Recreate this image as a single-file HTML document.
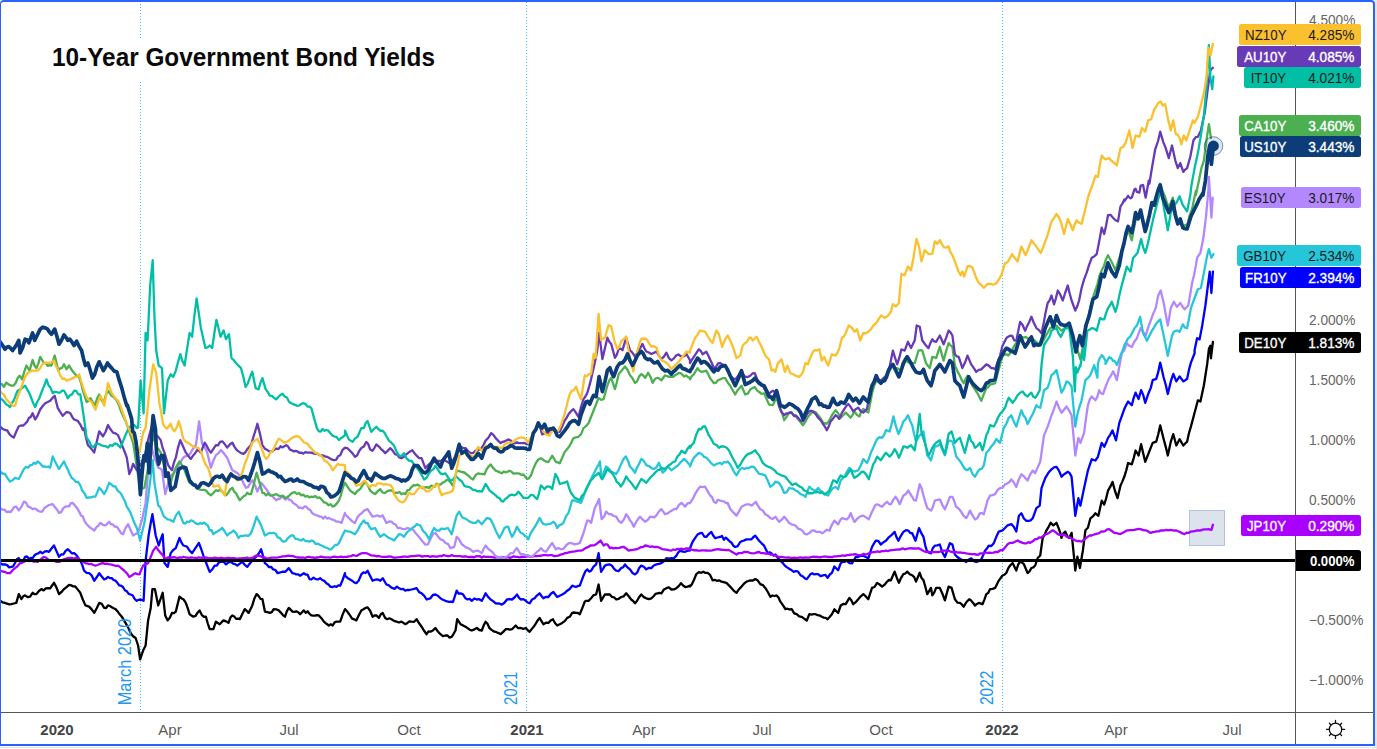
<!DOCTYPE html>
<html><head><meta charset="utf-8"><title>10-Year Government Bond Yields</title>
<style>
html,body{margin:0;padding:0;background:#fff;}
body{width:1377px;height:749px;position:relative;overflow:hidden;font-family:"Liberation Sans",sans-serif;}
#frame{position:absolute;left:0;top:0;width:1372px;height:742px;border-style:solid;border-color:#2962ff;border-width:2px 2px 2px 1px;border-radius:4px 4px 0 0;box-sizing:content-box;}
#gr{position:absolute;left:1375px;top:0;width:2px;height:749px;background:#e4e6ee;}
#gb{position:absolute;left:0;top:747px;width:1377px;height:1px;background:#e4e6ee;}
svg{position:absolute;left:0;top:0;}
#title{position:absolute;left:44px;top:38px;width:400px;height:43px;background:#fff;}
#title span{position:absolute;left:8px;top:4px;font-weight:bold;font-size:25px;line-height:30px;color:#0a0a0a;white-space:nowrap;transform-origin:0 50%;display:inline-block;transform:scaleX(0.974);}
.lb{position:absolute;height:21px;border-radius:2.5px;font-size:14.3px;line-height:21px;white-space:nowrap;}
.lb .n{position:absolute;right:75px;top:0.7px;transform:scaleX(0.93);transform-origin:100% 50%;}
.lb .v{position:absolute;right:7px;top:0.7px;transform:scaleX(0.955);transform-origin:100% 50%;}
.lb.w{-webkit-text-stroke:0.35px #fff;}
.yt{position:absolute;left:1308.5px;width:100px;text-align:left;font-size:14.3px;line-height:20px;color:#666;white-space:nowrap;transform:scaleX(0.955);transform-origin:0 50%;}
.xt{position:absolute;top:720px;width:60px;text-align:center;font-size:15px;line-height:20px;color:#5a5a5a;white-space:nowrap;}
.xt.b{font-weight:bold;color:#444;}
#zero{position:absolute;left:1296px;top:550px;width:65px;height:21px;background:#000;color:#fff;border-radius:0 2.5px 2.5px 0;font-size:14.3px;line-height:21px;font-weight:bold;}
#zero span{position:absolute;right:7px;top:0.7px;transform:scaleX(0.92);transform-origin:100% 50%;}
.rot{position:absolute;color:#2196f3;font-size:15px;line-height:16px;white-space:nowrap;transform-origin:0 0;transform:rotate(-90deg);}
</style></head><body>
<svg width="1377" height="749" viewBox="0 0 1377 749">
<g stroke="#40c4ff" stroke-width="1" stroke-dasharray="1 2" fill="none">
<line x1="140.5" y1="1" x2="140.5" y2="712"/><line x1="526.5" y1="2" x2="526.5" y2="712"/><line x1="1002.5" y1="2" x2="1002.5" y2="712"/>
</g>
<rect x="1189.5" y="510.5" width="35" height="35" fill="#dde3ed" stroke="#b7c3da" stroke-width="1"/>
<polyline points="0,600.3 2.5,602.3 5,602.9 7.1,603.7 9.2,604.3 11.3,604.1 13.8,603.5 16.3,602.9 18.8,594.1 21.3,599.1 23.2,596.3 25.1,595.3 27.6,597.2 30.1,596.6 32.6,592.8 34.5,594.2 36.4,594.1 38.9,591 41.4,589.1 43.6,590.4 45.8,588.3 48,588.1 50.2,588.3 52.1,585.5 54,582.8 56.5,587.6 59,594.1 61.5,592 64,589.1 66.5,587.1 69.1,584.8 71.2,585.4 73.2,586.4 75.3,586.5 77.8,589.6 80.3,592.8 82.8,599.5 85.4,605.4 89.1,606.6 91.7,609.4 94.2,612.9 96.7,608.3 99.2,602.9 101.7,603.9 104.2,607.9 106.1,608 108,605.4 109.9,606 111.8,607.2 113.6,608.3 115.5,609.1 117.6,611.4 119.7,614.3 121.8,616.7 125.5,622.9 128.1,627.4 130.6,633 133.1,636.2 135.6,638 138.1,645.5 140.1,659.4 143.1,650.6 145.6,645.5 148.1,620.4 150.7,607.9 152.4,589.1 154.9,589.1 158.2,605.4 160.4,599.4 162.7,592.8 165.2,615.4 167.7,620.4 169.8,617.7 172,612.9 173.9,613.2 175.8,611.6 179.5,596.6 181.6,598.4 183.7,599.6 185.8,602.9 187.7,608.2 189.6,614.2 193.3,616.7 195.4,616 197.5,612.8 199.6,610.4 202.1,615.4 204,616.8 205.9,616.7 207.8,623.5 209.7,629.2 213.4,629.2 215.9,621.7 217.8,623 219.7,624.2 221.6,622.2 223.5,620.4 226,621.3 228.5,622.9 230.4,617.6 232.3,615.4 234.2,616.4 236.1,618.9 237.9,618.7 239.8,619.2 242.3,614 244.8,609.1 246.7,610.9 248.6,612.9 252.3,605.4 254.5,598.2 256.6,594.1 258.5,595.9 260.5,598.8 262.4,599.1 264.9,611.6 267.4,612.1 269.9,612.9 271.8,612.2 273.7,609.1 276.2,609.3 278.7,610.4 280.8,612.6 282.9,615.1 285,616.7 286.9,611.1 288.8,607.9 292.5,611.6 294.4,611.9 296.3,611.3 298.2,612.2 300.1,614.2 303.8,610.4 305.7,612.8 307.6,611.3 309.5,613.9 311.4,615.4 313.3,615.6 315.1,615.7 317,615.2 318.9,615.4 321.4,618.2 323.9,621.7 326.4,623.8 328.9,625.5 330.8,624.3 332.7,625.5 334.6,622.3 336.5,621.7 340.2,621.7 342.6,614.6 345,609.1 345,609.1 347.5,611.8 350,615.4 352.1,618.6 354.2,619.3 356.3,620.4 358.8,615.3 361.3,610.4 363.4,609.2 365.5,607.9 367.6,607.4 370.1,610.7 372.6,616.7 374.5,615.5 376.4,615.4 378.9,617.9 380.8,614.3 382.7,612.9 385.2,617.9 387.3,619.2 389.4,618.3 391.5,619.2 394,620.9 396.5,621.7 399,622.5 401.5,621.7 403.4,622.9 405.3,624.2 407.4,622.9 409.4,621.3 411.5,621.7 414.1,621.8 416.6,619.2 419.1,623.3 421.6,626.7 424.1,630.8 426.6,634.2 428.5,631.4 430.4,631.7 432.9,630.4 435.4,628 437.9,631.5 440.4,634.2 442.9,636.1 445.4,635.5 447.5,635.5 449.6,637.6 451.7,636.8 453.6,633.8 455.5,630.5 457.2,619.2 460.5,624.2 463,625.4 465.5,626.7 467.6,628.1 469.7,629.7 471.8,630.5 474.3,629.4 476.8,628 479.3,630 481.8,630.5 483.7,625.4 485.6,621.7 487.5,623.7 489.4,628 491.9,630.1 494.4,631.7 496.5,632.2 498.6,633.1 500.7,634.2 503.2,631.9 505.7,629.2 507.8,629.2 509.9,629.7 512,629.2 515.7,625.5 518.2,628.2 520.8,628 523.3,628.8 525.8,628 527.7,630.3 529.6,631.7 532.1,628.6 534.6,625.5 537.1,621.3 539.6,617.9 541.5,621.2 543.4,624.2 545.9,622.7 548.4,622.9 550.6,620.4 552.9,619.2 555,623 557.2,625.5 559.7,624.3 562.2,622.9 564.7,621.1 567.2,617.9 569.7,616.8 572.2,612.9 574.1,612.5 576,612.9 577.9,613 579.8,614.2 582.3,608.1 584.8,601.6 586,600.8 588.5,600.9 591.1,598.3 593.6,595.1 596.1,594.5 598.6,584.5 601.1,600.8 603,597.6 604.9,594.5 607.4,594.3 609.9,594.5 612,596.9 614.1,597.3 616.2,599.5 618.7,598.8 621.2,597 623.7,596.3 626.2,593.3 628.7,596.3 631.2,599.5 633.1,601 635,603.3 637.1,600.8 639.2,597 641.3,594.5 643.8,597.1 646.3,598.3 648.8,599.1 651.3,598.3 653.4,596.5 655.5,593.9 657.6,593.3 659.5,592.8 661.4,593.3 663.9,589.5 666.4,588.2 668.9,587.4 671.4,589.5 673.9,589.4 676.4,588.2 678.7,586.1 681,583.2 683.1,585.5 685.2,587 687.6,586.6 690,585.7 690,586.6 691.9,584.2 693.8,580.3 696.3,574.1 698.8,572.2 701.3,572.8 703.4,571.7 705.5,572.9 707.6,572.8 710.1,574.9 712.6,580.3 714.7,579.8 716.8,580.8 718.9,580.3 720.8,581.3 722.6,581.8 724.5,582.3 726.4,582.9 728.9,585.4 731.4,587.9 734,590.9 736.5,592.9 739,589.2 741.5,586.6 744,583.7 746.5,581.6 748.4,581 750.3,580.3 752.8,580.6 755.3,579.1 757.8,580.6 760.3,584.1 762.8,585.1 765.3,587.9 767.8,592 770.3,596.7 772.4,595.5 774.5,596 776.6,595.4 778.5,597.5 780.4,601.7 782.9,605.2 785.4,609.2 787.5,608.7 789.6,609.5 791.7,609.2 794.2,613.3 796.7,614.2 799.2,616.4 801.7,616.8 804.2,618.7 806.8,620.5 809.3,614.2 811.4,614.7 813.4,614.2 815.5,614.2 817.6,615.1 819.7,615.5 821.8,616.8 823.7,617.6 825.7,617.8 827.6,619.3 829.8,616.8 831.9,614.2 834.4,609.2 838.1,613 840.7,605.5 843.2,604 845.7,604.2 849.4,597.9 851.3,600.3 853.2,604.2 855.7,602.2 858.2,599.2 860.8,596.3 863.3,594.2 865.8,596.4 868.3,599.2 872,587.9 874.5,587 877.1,582.9 879.6,584.5 882.1,586.6 884.6,584.7 887.1,581.6 889,580 890.9,580.3 894.6,571.6 896.8,577.7 898.9,582.9 901.1,577.8 903.4,574.1 905.3,573.5 907.2,571.6 909.7,574.2 912.2,575.3 914.1,576.9 916,581.6 919.7,572.8 921.6,578.1 923.5,580.3 925.4,587 927.3,594.2 931,587.9 932.3,595.4 934.2,592.6 936.1,587.9 939.8,587.9 942.3,593.4 944.9,600.4 948.6,586.6 951.6,587.9 954.9,599.2 957.4,602.6 959.9,602.9 961.8,604.4 963.7,606.7 966.5,602 969.2,599.2 971.1,600.5 973.1,602.9 975,605.5 976.9,603.9 978.8,602.9 982.5,604.2 984.4,599.6 986.3,594.2 988.2,592.9 990.1,589.1 992.6,588.8 995.1,587.9 998.8,580.6 1002.5,575.5 1004.4,574.7 1006.3,573 1008.2,568.4 1010.1,565.5 1012.6,563 1016.3,570.5 1018.2,564.5 1020.1,561.7 1022,562.6 1023.9,564.2 1027.6,573 1029.5,571.4 1031.4,568 1033.3,567.3 1035.2,565.5 1037.7,558 1040.2,555.5 1042.7,537.9 1044.6,534.9 1046.5,530.3 1048.6,526.8 1050.7,522.8 1053.3,525.3 1056.5,522.8 1058.4,527.7 1060.3,532.9 1061.5,537.9 1063.4,533.4 1065.3,531.6 1067.2,536 1069.1,537.9 1071.6,532.9 1074.1,558 1075.3,570.5 1077.4,556.7 1079.9,568 1082.9,550.4 1085.4,530.3 1087.9,527.8 1090.4,518.3 1092.9,516.4 1095.4,513.3 1098.4,515.8 1101.7,500.7 1104.2,504.5 1106.1,498.6 1108,490.7 1110.2,486.9 1112.5,481.9 1115,491 1117.5,498.2 1120.5,485.6 1122.4,481.4 1124.3,476.8 1126.2,470.6 1128.1,463 1131.8,464.3 1133.7,458.1 1135.6,450.5 1138.6,455.5 1141.1,444.2 1143.2,453.2 1145.2,461.8 1148.7,453 1150.7,447.8 1152.7,442.9 1156.2,441.7 1158.2,434.5 1160.2,425.4 1163.7,439.2 1165.8,447.1 1167.8,455.5 1170.8,441.7 1173.3,434.2 1176.3,445.5 1179.6,439.2 1183.3,445.5 1185.2,443.5 1187.1,441.7 1189,433.1 1190.9,426.6 1194.6,412.8 1197.9,400.3 1200.4,401.5 1203.9,385.2 1207.2,363.9 1208.4,353.3 1208.9,348.8 1210.4,345.7 1210.9,358.3 1212.9,342" fill="none" stroke="#000000" stroke-width="2.3" stroke-linejoin="round" stroke-linecap="round"/>
<polyline points="0,563.1 2.5,564.5 5,564.4 7.1,565.1 9.2,567.4 11.3,566.9 13.2,566.3 15.1,562.8 16.9,559.2 18.8,558.1 21.3,563.1 23.2,560.9 25.1,556.8 27,556.5 28.9,558.8 30.7,558 32.6,558.1 34.5,555.3 36.4,554 38.3,553.4 40.2,551.8 42.4,553.4 44.6,551.7 46.8,551.1 49,551.8 51.5,548.5 54,545.5 56.5,551.1 59,556.8 61.2,554.5 63.4,554.3 65.6,550.9 67.8,549.3 69.9,551.2 72,553.4 74.1,553.1 76.2,554.9 78.2,557.7 80.3,560.6 82.2,564.9 84.1,570.7 86.6,572.8 89.1,573.2 91.7,575.4 94.2,580.7 96.7,577.3 99.2,573.2 101.7,576.5 104.2,579.4 106.1,578.6 108,576.9 109.9,578.1 111.8,578.1 113.6,580 115.5,580.7 117.4,582.8 119.2,585.3 121.1,585.7 123,587 124.9,590.3 126.8,591.3 128.7,593.9 130.6,594.5 132.7,595.5 134.7,599 136.8,600.8 138.7,599.8 140.6,599.5 143.6,600.8 145.6,560.6 148.6,535.5 150.5,524.2 152.4,514.2 155.7,535.5 158.7,545.5 160.7,539.4 162.7,534.2 164.5,563.1 167.7,566.9 170.7,553.1 173.2,550 175.8,548.1 179.5,538 181.4,542.3 183.3,545.5 185.2,546 187.1,546.8 189.6,550.7 192.1,553.1 194.4,549.6 196.6,546.4 198.9,543 201.2,549 203.4,555.6 205.3,560.5 207.2,565.6 209.7,571.9 212.2,569.5 214.7,565.6 216.8,565.7 218.9,562.4 221,561.9 223.5,561.5 226,564.4 228.5,562.3 231,561.9 233.1,563.7 235.2,564.1 237.3,565.6 239.8,563.6 242.3,561.9 244.8,564.8 247.3,566.9 249.8,563.5 252.3,560.6 254.2,558.5 256.1,556.8 258.6,553.8 261.1,549.3 263,555.9 264.9,563.1 267,564.7 269.1,567.2 271.2,566.9 273.3,569.4 275.4,570 277.5,573.2 279.4,572.6 281.2,572.2 283.1,571.7 285,571.9 286.9,570.1 288.8,568.1 292.5,573.2 294.4,573.6 296.3,574.3 298.2,574.4 300.1,575.7 303.8,573.2 305.7,574.5 307.6,574.7 309.5,579.1 311.4,579.4 313.6,577.7 315.8,579.1 317.9,579.4 320.1,578.2 322.2,580 324.3,580.9 326.4,583.2 328.5,584.5 330.6,586.9 332.7,587 334.6,586.2 336.4,586.9 338.3,585.5 340.2,585.7 342.6,580 345,573.2 345,575.7 347.5,577.9 350,579.4 352.1,580.7 354.2,582.4 356.3,583.2 358.8,580.4 361.3,574.4 363.4,572.4 365.5,573 367.6,570.7 370.1,575.9 372.6,580.7 374.5,580 376.4,579.4 378.3,579.6 380.2,580.7 382.7,578.2 386.4,584.5 388.5,585.1 390.6,586.9 392.7,588.2 394.8,588.8 396.9,586.6 399,588.2 401.1,589.1 403.2,589 405.3,590.7 407.4,589.8 409.4,590 411.5,589.5 414.1,588.9 416.6,588.2 419.1,592.1 421.6,593.3 424.1,595.6 426.6,599.5 428.5,598.8 430.4,598.3 432.9,595 435.4,594.5 437.9,595.8 440.4,598.3 442.9,599.7 445.4,600.8 447.3,601.4 449.2,601.9 451.1,601.7 453,602 456.7,590.7 458.6,593.6 460.5,593.3 463,594.4 465.5,598.3 467.6,599.4 469.7,598.9 471.8,600.8 474.3,598.5 476.8,599.5 479.3,599.2 481.8,600.8 483.7,597.3 485.6,593.3 488.1,596.9 490.6,599.5 493.1,601.1 495.7,603.3 497.8,603.5 499.8,603.7 501.9,604.6 504.4,602.8 507,599.5 509.5,599.2 512,599.5 514.5,597.5 517,594.5 518.9,597.7 520.8,599.5 523.3,599.1 525.8,600.8 527.7,602.5 529.6,603.3 532.1,599.5 534.6,598.3 537.1,595.3 539.6,593.3 541.5,596 543.4,598.3 545.9,596.8 548.4,597 550.9,593.7 553.4,592 555.3,594.5 557.2,597 559.7,595.8 562.2,594.5 564.7,593.1 567.2,590.7 569.7,589 572.2,585.7 574.1,586.4 576,587 577.9,586 579.8,585.7 583.5,575.7 585.4,571.3 587.3,569.4 589.2,571.6 591.1,570.7 593.6,566.7 596.1,564.4 598.6,553.1 601.1,571.9 603,568.9 604.9,565.6 607.4,564.6 609.9,564.4 612,565.7 614.1,568.8 616.2,570.7 618.7,571 621.2,568.1 623.1,567.3 625,564.4 627.5,567.4 630,569.4 632.5,573 635,574.4 637.1,572.7 639.2,568.1 641.3,565.6 643.8,566.8 646.3,569.4 648.8,567.8 651.3,568.1 653.8,565.5 656.4,564.4 658.9,563.9 661.4,563.1 663.9,561.4 666.4,558.1 668.9,558.7 671.4,558.1 673.9,558.3 676.4,555.6 678.3,552.3 680.2,550.6 682.7,551.6 685.2,551.8 687.6,550.7 690,550.6 690,548.2 692.5,542 695,538.2 697.5,534.6 700,533.2 702.1,533 704.2,536.5 706.3,536.9 708.8,534.1 711.3,531.9 713.2,535.5 715.1,538.2 717.6,537.5 720.1,536.9 722,535.9 723.9,539.7 725.8,537.6 727.7,539.4 729.6,541.3 731.5,542.7 733.3,545.7 735.2,547 737.7,546.1 740.2,542 742.3,541 744.4,540.4 746.5,539.4 749,539.3 751.5,539.4 753.4,537 755.3,535.7 757.2,538.3 759.1,540.7 761.6,543.3 764.1,545.7 767.8,553.3 769.7,552.3 771.6,553.4 773.5,555.6 775.4,554.5 777.9,558 780.4,560.8 782.5,562.6 784.6,565.4 786.7,567.1 789.2,568.7 791.7,570.3 793.8,571.9 795.9,571 798,571.6 800.5,575.2 803,576.6 804.9,578.4 806.8,579.1 810.5,574.1 812.4,573.3 814.3,574.4 816.2,574.1 818.1,574.1 820.6,576.2 823.1,575.3 825.4,574.9 827.6,577.8 829.8,574.5 831.9,572.8 834.4,566.5 838.1,570.3 840.7,563.3 842.8,561.7 844.8,561.8 846.9,560.8 849.5,563.1 852,563.3 855.7,557 857.6,557.2 859.5,556 861.4,555.9 863.3,555.8 865.8,557 868.3,558.3 872,547 873.9,543.6 875.8,540.7 878.3,541 880.8,544.5 883.3,542.4 885.9,540.7 888.4,537.7 890.9,535.7 894.6,531.9 896.5,537.1 898.4,540.7 900.9,535.8 903.4,531.9 905.9,530.2 908.4,530.7 910.3,533 912.2,533.2 915.5,540.7 919,528.1 921.2,532.9 923.5,536.9 925.4,546.1 927.3,552 931,553.3 932.9,547.9 934.8,545.7 937.3,545.4 939.8,544.5 942.3,552.2 944.9,557 947.4,550 949.9,543.2 952.4,544.5 954.9,554.5 957,556.7 959.1,558.2 961.2,559.5 963.7,560.3 966.2,562 968.7,559.5 971.2,558.3 973.7,561.1 976.2,562 978.8,561.1 981.3,559.5 985,550.7 986.9,548.6 988.8,545.7 991.3,546.1 993.8,543.2 996.3,536.8 998.8,531.6 1002.5,530.3 1005,528 1007.6,525.3 1011.3,524.1 1013.8,526.7 1016.3,531.6 1018.9,515.8 1021.4,513.3 1023.9,518.5 1026.4,520.8 1028.5,520.8 1030.6,520.4 1032.7,518.3 1036.4,508.2 1039.7,505.7 1041.5,488.1 1045.2,478.1 1048.2,473.1 1051.5,469.3 1054,467.4 1056.5,466.8 1059,470.6 1061.5,476.8 1063.6,474.6 1065.7,473.2 1067.8,471.8 1069.7,473.1 1071.6,476.8 1075.3,515.8 1078.4,498.2 1080.4,505.7 1084.1,488.1 1086,479.3 1087.9,470.6 1089.8,464.9 1091.7,459.3 1095.4,460.5 1097.9,456.8 1099.8,449.9 1101.7,442.9 1104.2,446.7 1106.1,442.8 1108,437.9 1110.2,434.8 1112.5,430.4 1116,440.4 1119.3,422.9 1121.8,416.1 1124.3,409.1 1126.2,405 1128.1,401.5 1131.8,405.3 1133.7,397.9 1135.6,392.7 1138.6,399 1141.1,390.2 1143.2,394.9 1145.2,402.8 1148.7,392.7 1150.7,388.1 1152.7,380.2 1156.2,378.9 1158.2,372.2 1160.2,362.6 1163.7,377.7 1165.8,385 1167.8,394 1170.8,381.4 1173.3,373.9 1176.3,381.4 1179.6,376.4 1183.3,381.4 1185.2,380.3 1187.1,378.9 1189,369.8 1190.9,362.6 1194.6,353.3 1194.6,350 1197.1,338.2 1199.6,339.4 1202.2,325.6 1205.4,305.5 1207.9,285.5 1209.7,271.6 1211.4,293 1212.9,271.6" fill="none" stroke="#0000ff" stroke-width="2.3" stroke-linejoin="round" stroke-linecap="round"/>
<polyline points="0,570.7 2.5,571.5 5,571.9 7.5,573.2 10,573.2 12.6,570.2 15.1,568.1 17.6,566.1 20.1,563.1 22,562.4 23.9,561.9 25.7,560.6 27.6,560.6 29.6,561 31.6,560.7 33.7,561.6 35.7,561.5 37.7,561.9 39.8,560.1 41.8,558.5 43.9,556.8 46,557.7 48.1,559.4 50.2,560.6 52.4,560.8 54.6,560.9 56.8,561.9 59,561.9 61.2,560.9 63.4,559.6 65.6,558.8 67.8,558.1 69.8,557.9 71.8,557.9 73.8,558.7 75.8,557.8 77.8,558.1 79.7,559.8 81.6,561 83.5,562.1 85.4,563.1 87.4,563.5 89.4,564.1 91.4,564 93.4,565 95.4,565.6 97.3,565 99.2,564.2 101,563.5 102.9,563.1 104.8,563.8 106.7,563.6 108.6,564.2 110.5,564.4 112.4,564.8 114.2,565.4 116.1,565.8 118,565.6 120.1,567.2 122.2,569 124.3,570.7 126.8,573.2 129.3,576.9 131.4,575.8 133.5,574.1 135.6,573.2 137.5,574.1 139.4,574.4 143.1,565.6 145.6,564.3 148.1,563.1 150.6,557.3 153.2,550.6 156.2,546.8 158.4,550.3 160.7,553.1 162.6,554.9 164.5,558.1 166.4,558.5 168.3,557.3 170.2,557.8 172,557.5 173.9,557.1 175.8,557.6 177.7,557.8 179.7,557.5 181.6,557.6 183.5,556.9 185.5,557.5 187.4,557.6 189.3,557.9 191.2,557.3 193.2,557.6 195.1,557.8 197,557.8 199,557.5 200.9,557.6 202.8,557.8 204.8,557.4 206.7,557.7 208.6,558.4 210.6,558.2 212.5,558.4 214.4,557.6 216.3,557.9 218.3,558.4 220.2,558 222.1,557.8 224.1,558.6 226,558.1 227.9,557.8 229.9,558 231.8,558.1 233.7,558.1 235.7,558.5 237.6,558.7 239.5,558.3 241.4,558.3 243.4,558.1 245.3,557.9 247.2,557.6 249.2,558.7 251.1,558.1 253.2,557.5 255.3,556 257.4,555.6 259.6,555.9 261.8,557 264,557.2 266.2,558.1 268.2,558.5 270.2,557.9 272.2,557.6 274.2,557.6 276.2,557.6 278.3,557.3 280.4,556.9 282.5,556.4 284.6,556.3 286.7,556 288.8,555.6 290.9,556.1 293,556 295.1,556.9 297.1,557.5 299.2,557.4 301.3,557.6 303.2,557.5 305.2,558 307.1,557.1 309,556.9 311,557.3 312.9,557.5 314.8,557.9 316.7,557.5 318.7,557.3 320.6,556.7 322.5,557 324.5,557.3 326.4,557.3 328.5,557.4 330.5,557.7 332.6,556.9 334.7,556.7 336.7,557.1 338.8,557.1 340.9,556.7 342.9,557.1 345,556.8 345,556.8 347,556.8 349,556.3 351,556.2 353,555.1 355,555.6 357,555.8 359,554.5 361.1,553.4 363.1,553.2 365.1,553.1 367,553.3 368.9,554.2 370.7,555.1 372.6,555.6 374.6,555.7 376.6,556.4 378.7,556 380.7,556.7 382.7,556.8 384.8,556.9 386.9,556.8 388.9,556.5 391,556.6 393.1,557.5 395.2,557.6 397.3,557.3 399.4,557.2 401.5,557 403.6,556.7 405.7,556.7 407.8,556.8 409.8,556.4 411.8,556.1 413.8,556.2 415.8,555.8 417.8,555.6 419.9,555.6 422,556.6 424.1,556.1 426.2,556.2 428.3,556.2 430.4,556.8 432.3,556.2 434.1,556.4 436,556.6 437.9,556.5 439.8,556 441.6,556.2 443.5,555.1 445.4,555.6 447.5,556.1 449.6,556.2 451.7,555.1 453.8,555.8 455.9,556.1 458,556.1 460.1,556.2 462.2,556.6 464.2,556.5 466.3,556.5 468.4,557.2 470.5,556.8 472.4,557 474.3,557.4 476.2,556.1 478.1,556.3 479.9,556.2 481.8,557.5 483.7,556.4 485.6,556.8 487.5,556.8 489.4,556.9 491.3,557 493.1,557.4 495,557.5 496.9,557.3 498.8,557.3 500.7,557.6 502.6,557 504.4,557.5 506.3,557.5 508.2,557.2 510.1,557.8 512,557.1 513.8,556.3 515.7,556.8 517.6,556.8 519.5,557.3 521.4,557 523.2,556.8 525.1,556.9 527,556.4 528.9,556.3 530.8,556.8 532.7,556.6 534.6,555.8 536.5,556.2 538.3,555.9 540.2,555.8 542.1,555.4 544,555.1 545.9,555.1 548,555.3 550.1,555.2 552.1,555.2 554.2,556.1 556.3,555.9 558.4,555.6 560.5,554.6 562.6,554.2 564.7,553.2 566.8,553 568.9,552.4 571,551.8 573,551.6 575,551.4 577,550.8 579,550.7 581,550.6 582.9,550 584.8,548.6 586.7,547.6 588.6,546.8 590.5,545.5 592.4,545.3 594.2,545.3 596.1,544.3 598.4,542.4 600.6,540.5 603.6,545.5 605.5,544.3 607.4,544.3 609.9,548.1 611.8,547.7 613.6,548.4 615.5,547.9 617.4,548.1 619.5,547.9 621.6,547.1 623.7,546.8 626.2,548.6 628.7,550.6 630.6,550.2 632.5,550 634.4,549.5 636.3,549.3 638.5,548.5 640.7,547.2 642.9,547.2 645.1,545.5 647.6,546 650.1,546.8 652.2,546.4 654.3,547 656.4,546.8 658.3,547.2 660.1,548 662,549.1 663.9,549.3 665.8,549.6 667.6,549.9 669.5,550.4 671.4,550.6 673.4,549.5 675.4,550 677.5,548.8 679.5,549.2 681.5,548.6 683.6,549.3 685.8,548.5 687.9,548.4 690,548.6 690,549.5 692,549.7 694,550.3 696,550.1 698,550.7 700,550.7 702,550.3 704,550.4 706.1,550.5 708.1,550.7 710.1,550.7 712.1,550.3 714.1,549.8 716.1,549.3 718.1,549.2 720.1,549.5 722.1,549.8 724.1,549.9 726.2,550.2 728.2,549.8 730.2,550.7 732.3,552.1 734.4,553.3 736.5,554.5 738.4,553.2 740.2,553.1 742.1,553.1 744,552 746.2,552 748.4,552.2 750.6,553.2 752.8,553.3 754.9,553.1 757,552.4 759.1,552 761.3,553.2 763.6,553.1 765.8,553.6 768.1,553.4 770.3,554.5 772.3,554.7 774.3,555.3 776.4,555.8 778.4,556.9 780.4,557 782.4,557.1 784.4,557.3 786.4,557.7 788.4,557.4 790.4,557.8 792.5,557.9 794.6,557.7 796.7,558.1 798.8,557.7 800.9,557.3 803,557.8 805.1,557.3 807.2,557.6 809.2,557.7 811.3,557.1 813.4,556.7 815.5,557 817.6,557 819.7,557.4 821.8,557 823.9,556.5 826,556.7 828.1,557 830.2,556.9 832.3,557.1 834.4,556.3 836.5,556.4 838.6,556.1 840.7,555.8 842.8,555.3 844.9,555.8 847,555.1 849,555 851.1,554.6 853.2,554.5 855.3,554.2 857.4,554.9 859.5,555.1 861.6,554.9 863.7,553.9 865.8,554.5 867.7,553.9 869.5,553.1 871.4,552.7 873.3,552 875.4,552 877.5,551.4 879.6,551.9 881.7,551.2 883.8,551.1 885.9,550.7 888,551.1 890.1,550.3 892.1,550.1 894.2,549.9 896.3,549.6 898.4,549.5 900.5,549.4 902.6,548.4 904.7,549.3 906.8,548.8 908.9,548.4 911,548.2 912.9,548.5 914.8,548.3 916.6,548.6 918.5,548.2 920.4,549.1 922.2,550.2 924.1,551.2 926,552 928,551.6 930,552.2 932.1,552.2 934.1,552.1 936.1,552 938.1,552.2 940.1,551.6 942.1,550.9 944.1,550.6 946.1,550.7 948.1,550.5 950.1,551.4 952.2,552.2 954.2,551.9 956.2,552 958.2,552.6 960.2,552.3 962.2,552.9 964.2,552.8 966.2,553.3 968.2,553.7 970.2,554 972.2,554.2 974.2,554.1 976.2,554.5 978.1,554.9 980,553.5 981.9,553.3 983.8,553.3 985.7,552.5 987.5,552.9 989.4,552.7 991.3,552.8 993.5,552.7 995.8,551.9 998,552 1000.3,550.2 1002.5,550.4 1005,547.6 1007.6,544.2 1010.1,542.8 1012.6,542.9 1015.1,541.8 1017.6,540.4 1020.1,541.9 1022.6,542.9 1024.5,543.3 1026.4,543.4 1028.3,542.2 1030.2,542.9 1032.7,541.3 1035.2,539.1 1037.1,539.1 1039,537.5 1040.8,537.7 1042.7,536.6 1044.8,534.7 1046.9,534 1049,532.9 1050.9,531.5 1052.8,530.3 1055.3,531.9 1057.8,534.1 1059.7,534.9 1061.5,535.1 1063.4,534.4 1065.3,535.4 1067.2,537 1069,537.3 1070.9,538.3 1072.8,539.1 1075,540.2 1077.2,541.1 1079.4,541 1081.6,541.6 1083.7,539.9 1085.8,538.3 1087.9,536.6 1089.8,535.4 1091.7,535.5 1093.5,534.8 1095.4,534.1 1097.3,533.6 1099.2,533.2 1101.1,531.5 1103,531.6 1105.1,531.1 1107.1,529.4 1109.2,529.1 1111.8,531 1114.3,532.9 1116.4,533 1118.4,533.6 1120.5,534.1 1122.4,533.1 1124.3,532.1 1126.2,530.7 1128.1,530.3 1130.2,530.1 1132.3,530.2 1134.3,529.9 1136.4,529.3 1138.5,528.9 1140.6,529.1 1143.2,530.2 1145.7,530.3 1148.2,531.4 1150.7,532.9 1152.7,532.2 1154.7,531.8 1156.7,531.3 1158.7,531.4 1160.7,530.3 1162.6,530.5 1164.5,530.4 1166.4,529.9 1168.2,530.4 1170.1,529.8 1172,530.2 1173.9,530.6 1175.8,530.3 1178,531.2 1180.2,532.1 1182.4,533.4 1184.6,534.1 1186.7,532.6 1188.8,532.8 1190.9,531.6 1192.9,531.3 1194.9,531.2 1196.9,530.3 1198.9,530.5 1200.9,530.3 1202.8,529.6 1204.7,529.3 1206.5,529.3 1208.4,529.1 1211.4,529.8 1212.9,524.8" fill="none" stroke="#aa00ff" stroke-width="2.3" stroke-linejoin="round" stroke-linecap="round"/>
<polyline points="0,507.9 2.2,509.6 4.4,509.6 6.6,512 8.8,511.6 10.7,512 12.6,509.4 14.4,506.8 16.3,506.6 18.8,510.4 21.4,506.9 23.9,501.6 26.1,502.8 28.2,506.7 30.4,507.4 32.6,509.1 34.5,508.5 36.4,509.4 38.3,511 40.2,511.6 42.3,511.5 44.4,508.2 46.5,506.6 48.6,505.1 50.6,504.7 52.7,504.1 54.8,507 56.9,509.5 59,512.9 61.1,512.1 63.2,508.4 65.3,506.6 67.2,506.3 69,506.4 70.9,503.1 72.8,502.9 74.9,505.4 77,507.9 79.1,511.6 81,515.6 82.8,516.3 84.7,521.4 86.6,524.2 88.5,526 90.4,527.8 92.3,529.1 94.2,530.5 96.3,527.3 98.3,525.7 100.4,522.9 103,524.8 105.5,525.5 109.2,521.7 111.1,524.4 113,524.5 114.9,526.8 116.8,526.7 118.9,529.7 120.9,532.9 123,534.2 125.5,528.1 128.1,524.2 130.6,530.1 133.1,535.5 135.6,533.9 138.1,533 140,526.1 141.9,520.4 145.6,502.9 148.1,470.2 150.7,445.1 154.4,457.7 156.3,462.3 158.2,467.7 160.1,468.4 162,470.2 165.2,494.1 167.3,486.5 169.5,477.8 171.6,475.1 173.7,473.5 175.8,470.2 177.7,467 179.6,464 181.4,460.6 183.3,457.7 185.2,456.3 187.1,455.9 188.9,455.2 190.8,452.6 193.4,448.2 195.9,445.1 199.1,421.3 202.1,443.9 204.6,446.6 207.2,452.6 210.9,467.7 213.4,460.6 215.9,455.2 218.4,453.3 221,450.1 223.1,452.4 225.1,455 227.2,457.7 229.8,464.3 232.3,470.2 234.4,471.2 236.4,472.5 238.5,474 240.4,478.2 242.3,480.6 244.2,484.7 246.1,487.8 248.2,486.9 250.2,483.2 252.3,480.3 254.8,484.9 257.4,491.6 261.1,482.8 263,485.1 264.9,487.5 266.8,489.8 268.7,492.8 270.6,494.8 272.4,496.3 274.3,498.3 276.2,500.3 278.1,499 279.9,498.8 281.8,496.8 283.7,497.8 285.6,499.6 287.5,497.7 289.4,499.9 291.3,500.3 293.2,503.1 295.1,504.2 296.9,505.4 298.8,507.9 300.7,507.6 302.6,508.5 304.4,506.4 306.3,506.6 308.2,509 310.1,509.9 312,512.9 313.9,514.2 315.8,515.1 317.6,515.5 319.5,516.6 321.4,516.7 323.3,518.6 325.1,516.5 327,518.6 328.9,517.9 330.8,519.1 332.7,519.7 334.6,520.3 336.5,521.7 339,521.7 341.5,522.9 345,512.9 345,514.2 347.5,516.6 350,519.2 352.5,521.6 355,522.9 357.6,516.9 360.1,514.2 362,513 363.9,510.8 365.7,509.9 367.6,509.1 370.1,513 372.6,516.7 375.1,516.1 377.6,515.4 380.1,516.7 382.7,515.4 386.4,522.9 388.9,521.5 391.5,521.7 393.6,523.7 395.6,524.5 397.7,528 400.2,528 402.8,529.2 405.3,528.8 407.8,528 410.3,528.9 412.8,529.2 415.3,532.8 417.8,535.5 420.3,538.6 422.8,541.8 425.4,544.6 427.9,544.3 431.6,536.8 433.5,533.5 435.4,533 437.9,536.4 440.4,539.3 442.9,540.1 445.4,543 447.9,543.9 450.5,548.1 454.2,546.8 456.7,536.8 459.2,539.6 461.8,544.3 463.9,545.8 465.9,547.4 468,548.1 470.6,549.6 473.1,551.8 475.6,550.9 478.1,550.6 481.8,553.1 483.7,548.8 485.6,545.5 488.1,548.8 490.6,550.6 492.7,552.4 494.8,555.3 496.9,556.8 499,557.9 501.1,556.7 503.2,558.1 505.7,557.3 508.2,555.6 510.7,553.1 513.2,553.1 515.1,550.1 517,548.1 518.9,551.4 520.8,554.3 523.3,554.1 525.8,555.6 527.9,555.2 530,556.4 532.1,556.8 534.6,554.3 537.1,551.8 539,550.5 540.9,548.1 543.4,550.7 545.9,551.8 548,548.9 550.1,545.6 552.2,543 555.9,549.3 558.4,548 560.9,549.3 563.5,548.9 566,545.5 568.5,543.4 571,543 574.7,544.3 577.2,543.8 579.8,543 583.5,533 585.4,526.3 587.3,520.4 589.2,520.8 591.1,522.9 594.8,507.9 597,503.7 599.1,499.1 601.6,519.2 603.9,517 606.1,511.6 608.7,514 611.2,514.2 613.7,516 616.2,516.7 618.7,520.9 621.2,522.9 623.7,519.8 626.2,514.2 628.1,516.9 630,520.4 631.9,522.8 633.8,526.7 635.9,522.4 637.9,519.3 640,516.7 642.5,519.4 645.1,521.7 647.6,520 650.1,516.7 652.2,516.8 654.3,517.3 656.4,515.4 658.9,511.5 661.4,509.1 665.1,514.2 667.7,513.3 670.2,511.6 672.3,510.3 674.3,508.8 676.4,509.1 679,504.9 681.5,502.9 685.2,506.6 687.6,503.3 690,502.9 690,503 692.5,499.4 695,494.2 697.5,490.2 700,486.7 702.5,487.1 705.1,486.7 707.6,491.1 710.1,495.5 712,497 713.9,501.8 716,502.9 718,499.7 720.1,500.5 722,501.1 723.9,501.3 725.8,503 727.7,503 730.2,509 732.7,511.8 734.6,513.6 736.5,515.6 739,511.4 741.5,506.8 744,505.5 746.5,504.3 749,504.4 751.5,505.5 753.6,503.8 755.8,501.8 758,505.6 760.3,509.3 762.8,510.5 765.3,514.3 767.8,515.7 770.3,518.1 772.8,518.8 775.4,516.8 779.1,521.9 781.7,519.7 784.2,516.8 786.7,519.6 789.2,523.1 791.3,524.3 793.4,524.8 795.5,525.6 798,528.6 800.5,529.4 802.6,530.9 804.7,533.8 806.8,534.4 809.3,533.1 811.8,530.7 813.9,530.3 816,531.8 818.1,531.9 820.2,531.9 822.2,533.4 824.3,531.9 826.8,529.7 829.4,530.7 831.9,524.8 834.4,520.6 838.1,524.4 840,520.5 841.9,518.1 844.4,518.9 846.9,519.4 848.8,517.3 850.7,513.1 852.6,518 854.5,521.9 857,518.9 859.5,516.8 861.4,516 863.3,515.6 866,517.4 868.8,519.4 871,514.1 873.3,509.3 875.2,505.2 877.1,504.3 879.6,505.4 882.1,506.8 884.6,503.8 887.1,501.8 889,503.9 890.9,504.3 893.1,500.1 895.4,496.8 897.5,499.5 899.7,504.3 903.4,495.5 905.9,494 908.4,490.5 910.3,494 912.2,496.8 914.1,500.2 916,500.5 919.7,484.2 921.6,488.2 923.5,495.5 925.4,502.1 927.3,508.1 931,510.6 932.9,507 934.8,500.5 937.3,499.8 939.8,499.3 942.3,504.8 944.9,509.3 947.4,503.4 949.9,496.8 952.4,496.8 954.3,501.3 956.2,506.8 958.7,508.6 961.2,511.8 963.7,515.9 966.2,518.1 968.1,514.7 970,510.6 972.5,515.4 975,519.4 977.5,517.9 980,513.1 981.9,513.1 983.8,514.3 987.5,500.5 990.1,495.5 992.6,495.1 995.1,494.2 997.5,490 1000,488.1 1002.5,487.7 1005,484.4 1007.1,483.6 1009.2,482.3 1011.3,479.4 1013.8,482.5 1016.3,486.9 1018.8,479.4 1021.4,474.3 1023.5,475.9 1025.5,478.2 1027.6,480.6 1030.2,474.4 1032.7,470.6 1035.2,473.1 1037.7,467.4 1040.2,461.8 1042.1,448.6 1044,435.4 1047.7,426.6 1049.6,421 1051.5,415.3 1054,408.9 1056.5,401.5 1059,407.8 1061.5,412.8 1064,409.7 1066.6,406.5 1069.1,410.6 1071.6,415.3 1075.3,455.5 1078.4,437.9 1080.4,442.9 1084.1,432.9 1086,418 1087.9,405.3 1089.8,399.3 1091.7,396.5 1095.4,400.3 1097.3,396.9 1099.2,390.2 1101.1,393.5 1103,394 1106.7,383.9 1108.8,378.9 1110.9,375.7 1113,371.4 1114.9,374.9 1116.8,380.2 1120.5,360.1 1121.8,353.3 1124.3,350 1126.8,343.2 1129.3,345.8 1131.8,347 1134.3,341.7 1136.9,338.2 1140.6,328.1 1143.2,331.8 1145.7,335.7 1148.2,327.3 1150.7,320.6 1153.2,313.7 1155.7,308.1 1158.2,295.5 1160.7,290.5 1163.7,303 1165.8,314.7 1167.8,325.6 1170.8,308.1 1173.8,301.8 1177,306.8 1180.3,303 1182.4,306.5 1184.6,309.3 1188.3,305.5 1190.2,294.4 1192.1,282.9 1194,275.3 1195.9,265.4 1197.1,257.8 1200.4,252.8 1203.4,237.8 1205.9,217.7 1208.4,190 1208.9,176.9 1211.4,217.7 1212.7,197.6" fill="none" stroke="#b388ff" stroke-width="2.3" stroke-linejoin="round" stroke-linecap="round"/>
<polyline points="0,471.5 2.5,473.5 5,474 7.5,478.1 10,481.5 12.6,480.2 15.1,477.8 18.8,479 21.4,474 23.9,469 26,466.9 28,467.7 30.1,465.2 32,465 33.9,462.7 35.8,463.8 37.7,461.4 40.2,463.6 42.7,466.5 44.6,466.4 46.5,467 48.3,466.5 50.2,467.7 52.7,456.4 54.8,461 56.9,465 59,469 61.5,465.2 64,461.4 65.9,465.9 67.8,469.5 69.7,474.1 71.6,477.8 73.8,479.4 75.9,482 78.1,481.9 80.3,485.3 82.4,490.9 84.5,493.3 86.6,497.8 88.8,497.5 91,497.3 93.2,496.7 95.4,496.6 97.3,492.4 99.2,487.8 101.7,490.4 104.2,494.1 106.7,489.2 109.2,482.8 111.3,484.4 113.4,486.3 115.5,486.5 117.4,490.3 119.2,491.8 121.1,493.8 123,497.8 124.9,501.2 126.8,506.7 128.7,509.5 130.6,512.9 132.7,518.7 134.7,523.5 136.8,528 140.1,540.5 142.2,531.7 144.4,522.9 148.1,497.8 150.4,478.9 152.7,460.2 154.4,482.8 156.3,493.8 158.2,505.4 160.1,507 161.9,511.7 163.8,516.4 165.7,517.9 167.6,519.3 169.5,519.6 171.4,520.7 173.3,521.7 176.1,515.1 178.8,511.6 181.1,517.4 183.3,522.9 185.2,523.7 187.1,521.5 188.9,522.2 190.8,520.4 192.7,520.9 194.6,522.4 196.5,523.8 198.4,524.2 200.3,523 202.2,523.9 204,522.6 205.9,524.2 207.8,525.4 209.7,530.3 211.5,530.1 213.4,534.2 215.6,532.4 217.8,531.3 220,529.8 222.2,528 224.7,531.5 227.2,535.5 229.3,533.5 231.4,532.3 233.5,530.5 236,533.1 238.5,538 240.4,536 242.3,535.9 244.2,535.6 246.1,535.5 248.6,535.8 251.1,533 253.9,525.4 256.6,516.7 258.9,521 261.1,525.5 263,530.3 264.9,535.5 267.1,534.4 269.3,532.9 271.5,533.1 273.7,533 275.7,533.7 277.7,537.4 279.7,537.8 281.7,540.5 283.7,541.8 285.6,541 287.5,538.6 289.4,536.7 291.3,535.5 293.3,535.3 295.3,538.8 297.3,538.9 299.3,539.8 301.3,540.5 303.3,538.9 305.3,541.1 307.4,540.9 309.4,541.8 311.4,540.5 313.4,541.1 315.4,543.8 317.4,543.6 319.4,544.5 321.4,545.5 323.4,546.4 325.4,547.5 327.4,548 329.4,549.3 331.4,549.3 333.3,547 335.2,545 337.1,544.8 339,543 341,538.5 343,534.4 345,530.5 345,530.5 347.5,531.3 350,531.7 352.5,532.9 355,534.2 357.6,530.4 360.1,525.5 363.8,520.4 365.7,523.1 367.6,522.9 369.5,526.9 371.4,529.2 375.1,528 377.6,532.8 380.2,536.8 383.9,534.2 386.4,536.1 388.9,538 391.4,538.8 394,540.5 396.5,537.5 399,534.2 401.5,534.7 404,536.8 406.5,533 409,530.5 410.9,529.6 412.8,527.4 414.7,526.4 416.6,524.2 420.3,525.5 422.8,530.6 425.3,533 427.2,535.7 429.1,539.3 431.6,533.1 434.1,528 436.6,530.6 439.2,530.5 441.7,528.5 444.2,529.2 447.9,528 449.8,531 451.7,534.2 454.2,524.6 456.7,515.4 459.2,511.6 461.1,515.5 463,517.9 465.5,518.6 468,520.4 470.6,522.2 473.1,522.9 475.6,522.8 478.1,520.4 481.8,524.2 484.4,520.9 486.9,517.9 490.6,519.2 493.1,524.4 495.7,530.5 499.4,538 501.9,533.5 504.4,528 506.3,526.9 508.2,526.7 510.1,532.4 512,536.8 514.5,532.6 517,526.7 518.9,529.8 520.8,533 522.7,533.5 524.5,535.6 526.4,536.5 528.3,539.3 530.8,532.8 533.3,529.2 535.4,526 537.5,522 539.6,517.9 541.5,521.4 543.4,524.2 545.9,524.5 548.4,524.2 550.9,523.7 553.4,521.7 555.3,523.6 557.2,528 559.3,525.2 561.3,524.7 563.4,522.9 566,516.3 568.5,512.9 572.2,500.3 574.8,500.5 577.3,501.6 581,502.9 583.5,496.5 586,489.1 588.1,485.3 590.2,480.9 592.3,476.5 594.2,472.8 596.1,468.9 598,465.7 599.9,461.4 601.6,479 603.9,472.2 606.1,466.5 608.7,468.6 611.2,471.5 613.7,472.8 616.2,474 618.7,469.8 621.2,463.9 623.5,459.1 625.7,456.4 627.9,460.5 630,466.5 632.5,469.3 635,472.7 637.1,467.3 639.2,463.7 641.3,458.9 643.8,461 646.3,465.2 648.2,465.9 650,466.6 651.9,468.3 653.8,469 656.3,467.5 658.9,462.7 662.6,472.7 665.2,470.5 667.7,466.5 671.4,470.2 673.9,468.4 676.4,466.5 678.3,465.1 680.2,462.7 682.1,460.9 684,458.9 686,460.6 688,463 690,465.2 690,466.6 691.9,461.5 693.8,457.8 696.3,455.4 698.8,452.8 701.3,453.8 703.8,456.6 706.3,457.7 708.8,460.3 711.3,463.4 713.9,465.4 716,464.2 718,463.5 720.1,462.9 722,464.2 723.9,462 725.8,462.5 727.7,461.6 730.2,464.4 732.7,469.1 734.6,472.7 736.5,475.4 740.2,469.1 742.3,468 744.4,469 746.5,467.9 749,468 751.5,466.6 754,466.9 756.5,470.4 759,473.8 761.6,474.2 765.3,475.4 767.8,480.8 770.3,486.7 772.8,485.1 775.4,481.7 779.1,482.9 781.7,487.2 784.2,493 786.7,492.1 789.2,488 791.3,488.5 793.4,488.7 795.5,490.5 798,491.6 800.5,494.2 803,495 805.5,496.8 807.4,491.5 809.3,486.7 811.8,489 814.3,490.5 816.2,490.5 818.1,488 820.6,490.8 823.1,493 825.6,494.7 828.1,495.5 830.6,490.9 833.1,488 835.6,487 838.1,489.2 840.7,480.4 844.4,476.7 846.9,471.9 849.4,467.9 852,470.7 854.5,471.6 858.2,470.4 860.8,465.3 863.3,459.1 867,462.9 868.9,458.7 870.8,452.8 872.9,448.4 875,443.5 877.1,439 879.6,437.1 882.1,437.8 884,435.3 885.9,430.2 889.6,431.5 891.5,424.6 893.4,416.4 895.9,426.2 898.4,434 900.9,428.3 903.4,421.4 905.6,419.3 907.9,415.2 910,420.4 912.2,425.2 914.1,434 916,441.5 919.7,435.2 921.6,434.1 923.5,431.5 925.4,443.6 927.3,455.3 931,460.3 932.9,453.3 934.8,446.5 937.3,446.2 939.8,444 942.3,449.4 944.9,455.3 948.6,440.3 950.5,440.8 952.4,441.5 954.3,448 956.2,456.6 958.7,459.4 961.2,462.9 964.9,469.1 967.5,470.1 970,467.9 972.5,473.9 975,476.7 977.5,472.1 980,469.1 981.9,468.8 983.8,465.4 986.3,452.8 988.8,450.2 991.3,446.5 993.8,443.6 996.3,439 1000,442.9 1001.9,435.4 1003.8,427.9 1006.3,423.8 1008.8,417.8 1011.3,415.3 1013.8,421.7 1016.3,426.6 1018.8,418.1 1021.4,410.3 1023.5,415.5 1025.5,418 1027.6,424.1 1030.2,418.8 1032.7,414.1 1036.4,405.3 1038.3,407 1040.2,407.8 1042.1,399.4 1044,390.2 1047.7,387.7 1049.6,382 1051.5,375.2 1054,373.1 1056.5,370.1 1059,381.1 1061.5,392.7 1064,388.4 1066.6,381.4 1069.1,382.8 1071.6,386.5 1075.3,426.6 1077.2,415.6 1079.1,407.8 1081.6,400.3 1083.5,390.2 1085.4,380.2 1087.9,377.9 1090.4,375.2 1092.3,370 1094.2,365.1 1097.4,377.7 1097.9,363.3 1099.8,357.9 1101.7,355.8 1101.7,355.1 1103.6,357.3 1105.5,360.8 1105.5,363.9 1109.2,357 1109.2,357.6 1111.1,358 1113,360.8 1113,360.1 1114.9,361.5 1116.8,364.6 1116.8,365.1 1120.5,355.8 1120.5,355.1 1122.4,351.2 1124.3,345.7 1124.3,345 1126.2,342 1128.1,338.2 1130.3,336.6 1132.6,331.9 1134.8,327.8 1136.9,325.6 1140.1,316.8 1143.1,333.2 1145,336.8 1146.9,340.7 1149.4,335.7 1151.9,330.7 1153.8,328 1155.7,324.4 1158,321.5 1160.2,319.4 1163.7,335.7 1165.8,346.1 1167.8,355.8 1169.9,345.5 1172,335.7 1173.9,331.7 1175.8,330.7 1177.7,330.7 1179.6,331.9 1182.8,324.4 1184.9,327.5 1187.1,328.1 1189,318.5 1190.9,308.1 1194.6,298 1197.9,289.2 1200.9,288 1203.9,272.9 1207.2,255.3 1208.9,249.1 1211.4,257.8 1213.4,254.1" fill="none" stroke="#26c6da" stroke-width="2.3" stroke-linejoin="round" stroke-linecap="round"/>
<polyline points="0,383.1 1.9,384.3 3.8,386.9 6.3,382.6 8.8,384.5 11.3,385.6 13.4,385.7 15.6,383.1 17.6,378.3 19.6,375.6 22.1,379.4 24.2,371.9 26.4,365.5 29.6,370.6 32.6,360 34.5,365.5 36.4,368.1 38.3,363.9 40.2,356.8 43.9,363 45.8,363.2 47.7,365.9 49.6,365.2 51.5,365.5 54.7,355.5 58.3,370.6 60.2,368.4 62.1,367.8 64,364.3 66.5,369.3 69.1,365.5 71.6,369.8 74.1,373.1 76.6,375.9 79.1,376.8 81,382.8 82.9,390.7 86.6,402 88.5,400.8 90.4,398.2 92.7,402.1 94.9,405.7 97.1,398.5 99.2,394.4 101.3,399.6 103.4,403.2 105.7,395.5 108,390.7 111.7,395.7 114.2,397.5 116.8,400.7 118.9,405.1 120.9,411 123,415.8 125.5,420.9 128.1,428.1 130.6,435.6 133.1,442.6 135.3,456.9 137.6,472.7 140.1,486.5 142.2,488.8 144.4,487.8 148.1,467.7 150.7,450.1 153.2,435.1 156.9,447.6 158.8,449.6 160.7,452.6 163.2,461.9 165.7,470.2 168.2,477.8 170.7,482.8 173.2,474.2 175.8,467.7 179.5,461.4 182.1,465.5 184.6,470.2 187.1,476.9 189.6,482.8 191.8,483.2 194,485.1 196.2,486.1 198.4,489.1 200.3,489.6 202.2,489.9 204,489.8 205.9,490.3 208.4,493.5 210.9,495.3 213.4,493 215.9,490.3 218,490.9 220.1,489.6 222.2,491.6 224.1,493.6 226,495.3 228.1,493 230.2,489.4 232.3,487.8 234.2,491.7 236.1,493.3 237.9,496.9 239.8,500.3 241.7,498.3 243.6,496.2 245.4,495.4 247.3,492.8 249.2,494.1 251.1,494.1 253.9,483.8 256.6,472.7 258.5,479.1 260.5,485.9 262.4,492.8 264.3,493.2 266.1,495.4 268,493.7 269.9,495.3 272,495.6 274.1,494.8 276.2,494.1 278.4,495.5 280.6,496.3 282.8,495.6 285,497.8 286.9,497.4 288.8,496 290.6,494.2 292.5,492.8 294.7,492.1 296.9,494 299.1,493.2 301.3,495.3 303.3,494.7 305.3,496.6 307.4,496 309.4,497.3 311.4,496.6 313.4,497.1 315.4,496 317.4,498 319.4,497.4 321.4,499.1 323.9,502.3 326.4,502.9 328.5,505.3 330.6,504.2 332.7,506.6 334.8,505.6 336.9,503.4 339,500.3 341,494.9 343,487 345,482.8 345,482.8 347.5,486.6 350,490.3 352.5,492.3 355,494.1 357.6,490.7 360.1,489.1 362.6,485.2 365.1,481.5 367.6,485 370.1,490.3 372.6,492.7 375.1,494.1 377.6,491.4 380.2,489.1 382.7,492.6 385.2,492.8 387.7,490.8 390.2,490.3 392.1,490.6 393.9,492.8 395.8,492.7 397.7,492.8 399.6,492 401.5,494.3 403.4,493.3 405.3,494.1 407.4,490.2 409.4,489.8 411.5,487.1 413.6,485.1 415.7,485.4 417.8,484.6 420.3,486.5 422.8,488.1 424.8,487.3 426.8,487.1 428.9,487.9 430.9,485.7 432.9,485.8 434.8,486.8 436.6,483.6 438.5,484.7 440.4,484.6 442.3,482.8 444.1,482.1 446,480.6 447.9,479.5 450.4,482.3 453,485.8 456.7,470.7 459.2,471.2 461.8,472 464.3,472.5 466.8,474.5 468.9,476 471,478.3 473.1,479.5 475.6,475.2 478.1,473.3 480.2,473.9 482.3,473.9 484.4,474.5 486.5,469.6 488.5,466.6 490.6,464.5 493.1,467.9 495.7,470.7 497.8,471.4 499.8,472.4 501.9,473.3 503.8,471.5 505.7,472.4 507.6,471.7 509.5,470.7 511.6,471.8 513.6,473.7 515.7,473.3 517.6,473.3 519.5,473.7 521.4,474.8 523.3,474.5 527,478.8 528.9,478.3 530.8,475.8 533.3,468.9 535.8,463.2 538.3,459.5 540.9,458.2 544.6,460.7 546.5,461.7 548.4,462 550.3,459 552.2,455.7 555.9,462 557.8,462.4 559.7,463.2 562.2,457.8 564.7,451.9 567.2,449.1 569.7,445.6 571.6,442 573.5,438.1 576,437.3 578.5,436.8 581,434.1 583.5,428.1 586,426.2 588.6,423 591.1,416.8 593.6,410.5 596.1,404.4 598.6,397.9 601.1,399.8 603.6,399.2 605.5,392.2 607.4,385.4 609.3,380.5 611.2,377.8 614.9,389.1 616.8,382.6 618.7,374.1 620.8,371.7 622.9,368.9 625,366.5 627.5,369.7 630,375.3 632.5,378.2 635,382.9 637.1,381.3 639.2,376.4 641.3,374.1 643.2,375.5 645.1,377.8 648.1,372.8 650.4,376.6 652.6,382.9 655.1,378.8 657.6,377.8 659.5,378.8 661.4,380.3 665.1,375.3 667.2,376.2 669.3,376.9 671.4,376.6 673.3,376.9 675.2,375.2 677.1,374 679,372.8 681.5,373.7 684,376.6 686,375.4 688,377.1 690,377.8 690,379.4 691.9,376 693.8,374.4 697.5,368.1 699.4,370.6 701.3,371.9 703.8,371.3 706.3,370.7 708.2,374.1 710.1,378.2 712,380.6 713.9,383.2 716,382.7 718,380.2 720.1,379.4 722.7,378.2 725.2,378.2 727.7,382.5 730.2,385.7 732.7,390.2 735.2,394.5 737.3,390.7 739.4,388.3 741.5,385.7 745.2,394.5 747.8,393.6 750.3,389.5 752.5,388.1 754.8,387 757,390.4 759.1,392 761.6,393.9 764.1,393.3 766.6,399.1 769.1,404.6 771,404.9 772.9,405.1 776.6,397.6 778.5,404.3 780.4,410.1 782.3,413.7 784.2,420.2 786.7,416.7 789.2,412.6 791.3,411.9 793.4,415.2 795.5,415.2 797.4,418.3 799.2,420.4 801.1,422.9 803,425.2 805.1,422.1 807.2,418.1 809.3,415.2 813,411.4 815.5,412.1 818.1,415.2 820.6,418.5 823.1,422.7 826.8,423.9 829.3,420.5 831.9,415.2 835.6,410.1 838.2,413.5 840.7,417.7 843.2,415.2 845.7,412.6 848.2,415.1 850.7,417.7 852.6,414.9 854.5,411.4 857,415.1 859.5,416.4 861.4,411 863.3,408.9 865.8,411.1 868.3,412.6 870.8,400.1 872,393.3 874.1,385.9 876.3,380.7 878.5,380.4 880.8,383.2 883.3,380.6 885.9,378.2 889.6,370.7 892.9,365.6 895,368.5 897.2,368.1 900.9,370.7 903.4,365.1 905.9,360.6 908.5,362.4 911,363.1 914.7,363.1 916.6,357 918.5,350.6 920.4,350.1 922.3,350.6 926,363.1 927.9,365.7 929.8,368.1 932.3,356.8 934.2,357.3 936.1,358.1 939.8,346.8 941.7,353.9 943.6,360.6 946.1,351 948.6,343 950.5,345.4 952.4,346.8 954.9,365.6 957.4,371.1 959.9,375.7 961.8,380.1 963.7,383.2 965.6,379 967.5,375.7 970,380.4 972.5,385.7 975,389.5 977.5,393.3 979.4,397 981.3,400.8 983.8,394.1 986.3,388.2 988.2,387.2 990.1,384.5 992.6,384.2 995.1,383.2 997.6,373.4 1000,365 1002.5,355.8 1004.4,355 1006.3,354.1 1008.2,355.5 1010.1,353.3 1012.1,349.9 1014.1,346.2 1016.1,343 1018.1,341.2 1020.1,336.9 1022,337 1023.9,337.5 1025.8,336.9 1027.6,338.5 1029.5,338.5 1031.4,338.2 1033.6,339.6 1035.8,341.7 1038,343.5 1040.2,345.7 1042.7,341.7 1045.2,336.9 1047.7,332.5 1050.2,328.1 1052.3,327.2 1054.4,325.7 1056.5,325.6 1059,328 1061.5,330.7 1063.4,329.2 1065.3,327.6 1067.2,326.6 1069.1,324.4 1072.8,336.9 1074.7,342 1076.6,347.4 1078.5,353.1 1080.4,359.5 1083.2,345.3 1085.9,328.1 1088.2,317.9 1090.6,306.4 1092.9,298 1095.1,290.9 1097.3,284.8 1099.5,275.7 1101.7,270.4 1103.8,266.3 1105.9,259.5 1108,255.3 1109.9,258.7 1111.8,262.3 1113.6,266 1115.5,270.4 1117.6,263.5 1119.7,256.8 1121.8,250.3 1123.9,242.6 1126,236 1128.1,230.2 1131.8,240.3 1133.7,229.9 1135.6,220.2 1138.1,216.7 1140.6,213.9 1142.9,221.7 1145.2,229 1147.4,221.1 1149.7,214.2 1151.9,207.6 1154,201.5 1156.1,196.6 1158.1,190.1 1160.2,183.8 1162.3,190.5 1164.5,195.4 1166.7,201.8 1168.8,207.6 1170.8,202.8 1172.8,197.6 1175.3,211.2 1177.8,222.7 1180.5,223.7 1183.3,226.5 1185.2,225 1187.1,225.2 1189.6,215.5 1192.1,208.9 1194,199.5 1195.9,190.7 1195.9,195.1 1198.9,180.7 1201.4,168.1 1203.9,160.6 1206.4,140.5 1208.9,124.2 1210.9,138" fill="none" stroke="#4caf50" stroke-width="2.3" stroke-linejoin="round" stroke-linecap="round"/>
<polyline points="0,426.3 2.5,428.9 5,430 7.2,430.4 9.4,434.1 11.6,436.3 13.8,437.6 16.3,431.5 18.8,426.3 20.9,425.5 23,425.7 25.1,423.8 27,421.9 28.9,417.9 30.7,417.1 32.6,413.3 35.2,419.5 37.7,415.3 40.2,409.5 42.7,406 45.2,403.2 47.7,402 50.2,400.7 52.5,397.9 54.7,395.7 57.8,408.2 60.3,412.2 62.8,415.8 66.5,412 68.4,412.3 70.3,413.3 72.2,416.9 74.1,419.5 77.8,420.8 80.3,424.6 82.9,430 84.1,428.1 86,437.7 87.9,445.1 90,447.2 92.1,449.7 94.2,452.6 96.7,442 99.2,431.3 102.9,436.3 105.5,432 108,425 110.5,429.3 113,432.6 115.5,433.4 118,435.1 120.5,441.1 123,447.6 124.9,452.5 126.8,457.7 129.3,474 131.2,470.1 133.1,463.9 136.8,470.2 138.7,466.7 140.6,465.2 143.1,458.9 145.6,452.6 147.5,442.4 149.4,435.1 152.7,422.5 156.2,435.1 158.4,437.1 160.7,440.1 162.6,447.9 164.5,452.6 168.2,465.2 170.1,468 172,470.2 173.9,462.7 175.8,457.7 178.1,447.3 180.3,440.1 183.1,446.5 185.8,452.6 188.3,455.9 190.8,458.9 192.9,455.8 195,453.5 197.1,450.1 199,450.7 200.9,452.6 204.6,442.6 206.7,445.7 208.8,449.9 210.9,452.6 213.4,448.9 215.9,445.1 218,445.4 220.1,441.9 222.2,441.3 224.7,444.1 227.2,447.6 229.8,444.5 232.3,442.6 234.4,446.6 236.4,449.6 238.5,451.4 241.1,453.1 243.6,453.9 245.5,452.1 247.3,449.1 249.2,447.1 251.1,445.1 253.2,437.7 255.3,431 257.4,423.8 259.9,433.6 262.4,445.1 264.9,448.7 267.4,450.1 269.9,451.7 272.4,451.4 274.5,449.4 276.6,448.6 278.7,448.9 280.6,446.3 282.4,447.4 284.3,446.3 286.2,445.1 288.1,446.5 290,449.7 291.9,450.3 293.8,451.4 295.7,450.8 297.6,451.5 299.4,452.8 301.3,452.6 303.3,453.6 305.3,452.1 307.4,452.6 309.4,452.7 311.4,452.6 313.4,453.3 315.4,453.8 317.4,453.6 319.4,455.1 321.4,455.2 323.3,455.7 325.1,456.3 327,456.8 328.9,457.7 331.4,459.4 334,460.2 336.1,459.8 338.1,456.2 340.2,455.2 342.6,449.8 345,447.6 345,448.1 347.5,448.2 350,450.7 352.5,453.4 355,456.9 357.1,455.4 359.2,451 361.3,448.1 363.8,446.6 366.3,441.9 368.2,444 370.1,449.4 372.6,450.7 374.5,447.8 376.4,444.4 378.9,446.6 381.4,449.4 383.3,451 385.2,453.2 387.7,450.8 390.2,448.1 392.7,450.6 395.2,454.4 397.3,454.7 399.4,457.5 401.5,458.2 403.6,457 405.7,454.6 407.8,453.2 410.1,451.4 412.3,450.2 414.5,453.3 416.6,455.7 419.1,458.1 421.6,458.2 425.3,468.2 427.9,465.4 430.4,463.2 432.9,462.6 435.4,460.7 437.4,460.8 439.4,460.8 441.4,460.6 443.4,459.9 445.4,460.7 447.3,461.7 449.2,463.2 451.3,460.9 453.4,459.8 455.5,455.7 458,451.5 460.5,446.9 463,447.8 465.5,448.1 468,451.1 470.5,453.2 473.1,453 475.6,450.7 478.1,450 480.6,449.4 483.1,445.7 485.6,440.6 488.4,437.8 491.1,433.1 493.4,434.8 495.7,438.1 498.2,440.8 500.7,443.1 502.6,441.8 504.4,441.5 506.3,440.5 508.2,439.4 510.7,440.6 513.2,443.1 515.1,443.3 517,442.2 518.9,443.2 520.8,443.1 522.7,443.2 524.5,443 526.4,444.1 528.3,444.4 530.8,439.1 533.3,433.1 535.8,429.5 538.3,424.3 540.2,427.8 542.1,434.3 544,433.6 545.9,433.1 547.8,432.8 549.6,431.1 551.5,431.6 553.4,430.6 555.5,430.7 557.6,431.1 559.7,431.8 562.2,426.3 564.7,420.5 566.6,417.9 568.5,414.2 571,411.2 573.5,409.2 576,412.8 578.5,416.8 581,407 583.5,399.2 585.4,396.5 587.3,392.9 589.2,386.4 591.1,379.1 594.8,362.8 597.3,350.2 599.1,332.6 602.4,359 604.9,348.3 607.4,337.7 609.3,341.7 611.2,343.9 614.9,357.8 616.8,354.6 618.7,349 620.6,348.6 622.5,350.2 626.2,337.7 628.1,344.2 630,350.2 632.5,352.8 635,356.5 636.9,353.2 638.8,350.7 640.6,347.5 642.5,343.9 644.4,348.3 646.3,351.5 648.8,352.5 651.3,354 653.8,352.9 656.4,351.5 658.9,355.7 661.4,359 663.9,356.6 666.4,352.7 668.9,358.1 671.4,360.3 673.9,358.4 676.4,355.2 678.5,354.5 680.6,356.2 682.7,356.5 684.6,355.8 686.5,354 690,360.3 690,363.1 691.9,359.8 693.8,356.8 696.3,353.2 698.8,349.3 700.7,350.8 702.6,354.3 706.3,351.8 708.2,355.3 710.1,359.4 712,363.5 713.9,368.1 716,367 718,363.5 720.1,363.1 722.7,364.7 725.2,365.6 727.7,369.3 730.2,375.7 732.7,378.1 735.2,379.4 737.3,377 739.4,373.7 741.5,371.9 745.2,376.9 747.8,377 750.3,375.7 752.5,373.5 754.8,373.2 757.8,380.7 760.3,382.8 762.8,385.7 765.3,390.4 767.8,395.8 770.3,392.5 772.9,390.7 776.6,393.3 779.1,405.8 781.7,412.1 784.2,415.2 786.3,413.5 788.3,413.1 790.4,412.6 792.3,413.3 794.2,416.2 796.1,415.9 798,417.7 800.5,420.8 803,421.4 805.1,418 807.2,413.7 809.3,411.4 811.4,410.6 813.4,412 815.5,413.9 818,417.7 820.6,420.2 822.7,423.5 824.7,426.3 826.8,430.2 828.7,426.6 830.6,421.4 833.1,418.4 835.6,415.2 837.5,416.7 839.4,418.9 841.9,412.9 844.4,408.9 846.3,406.1 848.2,403.9 850.7,407 853.2,411.4 855.7,409.2 858.2,407.6 860.8,411.3 863.3,412.6 867,408.9 869.5,395.1 870.8,388.2 873.3,383.2 875.8,376.9 878.3,379.1 880.8,380.7 883.3,378.3 885.9,375.7 889.6,366.9 892.9,350.6 895,357.6 897.2,364.4 899.3,357.7 901.4,349.3 904.7,350.6 907.9,341.8 911,348.1 914.7,340.5 916.7,325.5 919.7,326.7 922.3,340.5 926,345.5 928.5,348.1 930.4,343.1 932.3,339.3 934.2,341.4 936.1,341.8 939.8,335.5 941.7,339.7 943.6,344.3 946.1,337.8 948.6,330.5 950.5,332.3 952.4,335.5 954.9,354.3 956.8,356.4 958.7,356.8 962.4,368.1 965,362.6 967.5,355.6 971.2,364.4 973.7,367.9 976.2,371.9 978.8,369.8 981.3,369.4 983.8,366.8 986.3,364.4 988.8,365.6 991.3,368.1 993.2,368.2 995.1,369.4 997.5,362.5 1000,355.8 1002.5,345.7 1004.4,342 1006.3,338.2 1008.2,336.7 1010.1,335.7 1012.2,335.8 1014.2,340.4 1016.3,340.7 1018.2,331.1 1020.1,321.9 1022.6,325 1025.1,330.7 1027.2,325.9 1029.3,321.8 1031.4,316.8 1033.9,323 1036.4,328.1 1039,330.1 1041.5,333.2 1043.6,323.6 1045.6,312.4 1047.7,303 1049.6,300.3 1051.5,295.5 1054,304.3 1055.9,298.3 1057.8,290.5 1060.3,294.7 1062.8,300.5 1065.3,292.5 1067.8,285.5 1069.7,293.5 1071.6,300.5 1075.3,310.6 1077.2,306.3 1079.1,300.5 1081.6,288 1084.1,279.4 1086.6,272.9 1089.2,264.7 1091.7,257.8 1094.2,256.4 1096.7,254.1 1099.2,241.4 1101.7,227.7 1104.2,234 1106.1,225.5 1108,215.2 1110.5,214.8 1113,217.7 1115.5,220.3 1118,221.4 1120.5,206.4 1122.4,203.7 1124.3,199.5 1124.3,201.3 1126.2,198.6 1128.1,195.8 1128.1,196.3 1130.6,198.3 1131.8,197.6 1134.4,189.5 1135.6,188.8 1136.9,192 1139.4,192.6 1140.6,185.7 1143.1,185 1145.2,195.8 1145.7,197.6 1148.7,180.7 1149.4,183.8 1151.9,168.1 1155.2,149.3 1158.2,140.5 1160.2,131.7 1163.2,141.8 1165.7,148.1 1168.8,158.1 1172,145.5 1175.3,160.6 1177.8,168.1 1180.3,163.1 1183.3,171.9 1185.2,169.6 1187.1,168.1 1190.3,156.8 1193.4,140.5 1195.7,137.1 1197.9,136.8 1200.9,130.5 1202.8,121.2 1204.7,112.9 1207.9,87.8 1210.4,70.2 1212.9,67.7" fill="none" stroke="#673ab7" stroke-width="2.3" stroke-linejoin="round" stroke-linecap="round"/>
<polyline points="0,398.2 2,399.5 4,401.4 6,404.2 8,405.3 10,407 11.9,403.1 13.8,400.3 15.7,395.3 17.6,390.7 19.5,389.7 21.4,388.5 23.2,387.1 25.1,385.6 27.1,389.3 29.1,392.6 31.2,397.8 33.2,403.2 35.2,407 37.1,402 39,399 40.9,393.9 42.7,389.1 44.6,384.8 46.5,379.4 48.6,385.4 50.6,387.8 52.7,393.2 54.6,391.8 56.5,392 58.4,392.6 60.2,392.5 62.1,390.7 64,390.7 65.9,394 67.8,398.2 69.9,395.4 72,394.4 74.1,390.7 76.2,390.8 78.2,394.3 80.3,394.4 82.8,410.1 85.4,428.1 86.6,437.6 89.1,441.1 91.6,446.4 93.5,447.1 95.4,444.2 97.3,444.2 99.2,443.9 101.4,445.3 103.6,445.8 105.8,446.2 108,447.6 110.2,445.1 112.4,445.9 114.6,443.5 116.8,443.9 120.5,447.6 123,441.3 125.5,435.1 127.4,430.9 129.3,427.5 131.8,425.7 134.3,425 136.8,428.1 138.1,427.5 140.6,380.6 143.6,413.3 145.6,332.9 147.6,340.4 150.2,285.2 152.7,260.1 154.4,315.3 156.2,350.5 158.7,365.5 162,368.1 164,413.3 167.7,380.6 170.7,374.3 173.3,376.8 175.8,370.6 178.1,361.8 180.3,354.2 182.4,361 184.6,365.5 187.1,348.7 189.6,332.9 192.1,336.7 194.3,316.5 196.6,298.3 198.8,313.3 200.9,327.9 203.2,338.3 205.4,348 207.6,347.3 209.7,345.5 212.2,348 214.3,333.5 216.4,319.8 218.4,327.7 220.5,336.7 223.5,330.4 226,339.2 229,334.2 231.5,358 233.8,360.3 236,363 238.5,365.7 241,368.1 243.3,376.7 245.6,386.9 247.8,383.5 250.1,376.8 252.3,371.8 255.6,388.1 258.6,389.4 260.5,382.6 262.4,378.1 265.7,389.4 267.8,392.1 269.9,395.7 272,395.8 274.1,398 276.2,399.4 278.3,397 280.4,395 282.5,393.7 284.7,396.5 286.9,397.5 289.1,401.7 291.3,403.2 293.2,404.2 295.1,404.9 296.9,405.8 298.8,405.7 301.3,403.9 303.8,403.2 305.7,404.1 307.6,406.6 309.5,406.7 311.4,408.2 314.1,418.4 316.9,428.1 318.9,431.3 320.8,431.5 322.6,429 324.5,430.8 326.4,430 328.3,430.6 330.2,433 332.1,435.2 334,436.3 336.5,437 339,440.1 341,438 343,436.9 345,435.1 345,430.6 346.9,434.9 348.8,439.4 352.5,441.9 355.1,438.4 357.6,436.8 361.3,428.1 363.8,428.1 365.7,423 367.6,421 369.5,426.6 371.4,431.8 373.9,429 376.4,426.8 378.5,429.2 380.6,430.9 382.7,430.6 384.8,433.3 386.8,437 388.9,440.6 391.4,442.7 394,445.6 396.5,451.4 399,455.7 401.5,455.9 404,453.2 406.5,458.3 409,460.7 411.6,461 414.1,464.5 416.6,467.4 419.1,470.7 421.6,474.8 424.1,479.5 426.6,477.7 429.1,473.3 431.2,470.4 433.3,469.3 435.4,465.7 437.9,469.6 440.4,473.3 442.9,474.1 445.4,473.3 447.9,477.1 450.5,480.8 453,479.6 455.5,475.8 459.2,479.5 461.8,481.2 464.3,485.8 466.4,486.7 468.4,486.8 470.5,487.8 473.1,489.9 475.6,490.3 477.7,491.4 479.7,491.1 481.8,491.6 483.7,488.1 485.6,484 487.5,486.9 489.4,490.3 491.5,492 493.6,493.7 495.7,495.3 497.6,497.4 499.4,498 501.3,500.9 503.2,501.6 505.3,498.9 507.4,497.5 509.5,495.3 512,494.7 514.5,495.3 516.4,494.4 518.3,491.6 520.8,494.4 523.3,497.8 525.8,497.9 528.3,497.8 530.8,494.9 533.3,495.3 535.2,497.4 537.1,499.1 539,493.3 540.9,485.3 544.6,489.1 546.5,486.7 548.4,486.5 550.3,486.9 552.2,489.1 555.4,474 557.5,477.4 559.7,484 563.4,482.8 565.3,482.3 567.2,481.5 569.1,487.9 571,492.8 574.7,497.8 577.2,498.9 579.8,500.3 581.9,495.8 583.9,494 586,490.3 588.1,485.5 590.2,481.2 592.3,479 594.4,476.3 596.5,475 598.6,472.7 600.5,476.5 602.4,479 604.9,474.2 607.4,469 609.3,471 611.1,472.2 613,474.2 614.9,477.8 616.8,482 618.8,483.3 620.7,486.5 623.5,482.5 626.2,476.5 628.7,480.2 631.2,482.8 633.5,486.1 635.8,489.1 638.5,484 641.3,479 643.8,480.7 646.3,482.8 648.8,479.4 651.3,476.5 653.4,474.6 655.5,472.3 657.6,470.2 659.7,469.9 661.8,467.8 663.9,469 666.4,467.8 668.9,465.2 671,463.9 673.1,462 675.2,461.4 677.3,456.6 679.4,454.6 681.5,450.7 685.2,453.2 687.6,448.8 690,445.6 690,447.8 691.9,444.9 693.8,442.8 696.3,434.4 698.8,429 700.9,429.4 703,426.4 705.1,426.5 708.8,435.2 711.3,439.1 713.9,444 716.4,444.8 718.9,447.8 721.4,446.3 723.9,446.5 726.4,447.5 728.9,450.3 731.4,455.4 733.9,460.3 735.8,463.6 737.7,467.9 740.2,464.8 742.7,460.3 745.2,456.6 747.8,454.1 751.5,452.8 753.4,451.4 755.3,450.3 757.2,453.3 759.1,455.3 762.8,462.9 765.3,465.2 767.8,466.6 770.3,467.4 772.9,469.1 775,470.7 777,473.3 779.1,474.2 781.2,475.3 783.3,475.9 785.4,476.7 787.9,480 790.4,482.9 792.3,485.1 794.2,483.9 796.1,483.6 798,485.5 800.1,486.7 802.1,487.8 804.2,490.5 806.3,491 808.4,493.4 810.5,493 812.4,493.4 814.3,492.1 816.2,492.3 818.1,491.7 820.2,493.1 822.2,491.8 824.3,494.2 826.8,492.9 829.4,490.5 833.1,480.4 835,480.8 836.9,482.9 838.8,478.6 840.7,475.4 843.2,476.9 845.7,476.7 848.2,472.9 850.7,469.1 852.6,474.4 854.5,477.9 857,476.3 859.5,474.2 861.4,472 863.3,471.6 866,474.2 868.8,479.2 871,471.5 873.3,464.1 875.2,461.3 877.1,456.6 880.8,460.3 883.3,456.3 885.9,452.8 889.6,456.6 892.1,454.1 894.6,449.1 896.8,452.6 898.9,457.8 901.1,452.7 903.4,446.5 905.3,446.7 907.2,447.8 909.1,446.5 911,445.3 914.7,450.3 917.2,434 919.7,413.9 921.5,432.7 924.8,442.8 928.5,455.3 930.4,452.3 932.3,447.8 934.2,444.9 936.1,442.8 939.8,440.3 942.3,447.7 944.9,454.1 948.6,434 951.6,431.5 954.9,442.8 957.4,439.7 959.9,437.8 962.4,445.5 964.9,452.8 967,444.3 969.2,435.2 971.1,441 973.1,443 975,447.8 977.5,445.8 980,442.8 982.5,450.3 984.4,443.6 986.3,435.2 988.2,431.5 990.1,425.2 993.8,426.5 995.9,422.8 997.9,417.8 1000,414.1 1002.5,411.2 1005,407.8 1006.9,402 1008.8,397.8 1010.7,400.2 1012.6,402.8 1015.1,399.6 1017.6,395.2 1020.1,392.7 1022.6,391.5 1025.1,394.8 1027.6,396.5 1029.5,394.2 1031.4,392.7 1033.3,396.7 1035.2,397.8 1037.5,394.5 1039.7,390.2 1041.5,365.1 1044,344.5 1044,345 1047.7,339.4 1049.6,336.6 1051.5,330.7 1054,329.1 1056.5,328.1 1058.7,333.6 1060.8,336.9 1063,332.6 1065.3,328.1 1067.2,328.3 1069.1,326.9 1072.8,355.8 1072.8,355.1 1074.8,391.5 1075.9,367.1 1077.4,372.6 1080.4,364.6 1080.4,366.4 1084.1,343.2 1084.1,360.1 1087.4,330.7 1089.6,329.8 1091.7,328.1 1094.2,328.6 1096.7,330.7 1100,318.1 1102.1,319.3 1104.2,319.4 1106.1,313.2 1108,308.1 1109.9,305.5 1111.8,301.8 1115.5,311.8 1117.4,305.2 1119.3,295.5 1121.2,287.5 1123.1,280.4 1126.8,266.6 1128.7,269.3 1130.6,271.6 1133.1,257.8 1135.3,255.6 1137.6,252.8 1141.1,239 1143.2,247.4 1145.2,252.8 1147.3,245.9 1149.4,236.5 1151.3,227.5 1153.2,218.9 1155.1,211.4 1157,203.9 1160.7,190 1162.6,199.9 1164.5,211.4 1167.8,230.2 1170.8,212.6 1174.5,205.1 1177,201.7 1179.6,196.3 1182.8,205.1 1184.9,208.2 1187.1,211.4 1190.3,195.1 1191.4,185.7 1194.6,168.1 1197.9,153.1 1200.9,135.5 1203.9,115.4 1206.4,87.8 1208.9,45.1 1210.4,77.8 1212.2,89.1 1213.4,76.5" fill="none" stroke="#00bfa5" stroke-width="2.3" stroke-linejoin="round" stroke-linecap="round"/>
<polyline points="0,390.7 1.9,393.2 3.8,394.7 5.6,397.8 7.5,400.7 9.4,402.3 11.3,403.8 13.2,405.9 15.1,405.7 17.6,396.9 20.1,390.7 22.6,383.6 25.1,376.8 27.6,373 30.1,371.8 32,370.4 33.9,371 35.8,370.6 37.7,370.6 39.8,368.7 41.8,365 43.9,363 46.5,362.6 49,363 51.5,362.3 54,360.5 56.1,366.3 58.2,370.3 60.3,375.6 62.4,378.9 64.4,378.5 66.5,380.6 68.6,379.8 70.7,379.1 72.8,378.1 74.9,377.1 77,376.7 79.1,374.3 81.6,383 84.1,390.7 86.6,396.9 89.1,400.1 91.6,402 93.5,405.8 95.4,409.5 97.9,402.4 100.4,395.7 102.3,400.1 104.2,405.7 106.1,394.7 108,383.1 111.7,393.2 113.8,396.2 115.9,398.9 118,400.7 120.5,406.2 123,413.3 125.8,421.2 128.6,428.1 130.6,432.6 132.7,436.5 134.7,442.2 136.8,447.6 139.4,452.6 143.1,432.6 145.6,428.1 147.5,409.8 149.4,390.7 151.3,377 153.2,364.3 156.2,373.1 159.4,403.2 161.3,413.1 163.2,424.6 165.1,427 167,428.8 170.7,423.8 172.6,429.2 174.5,431.3 176.7,427.4 178.8,421.3 181.1,429.3 183.3,438.8 185.4,441.4 187.5,442.5 189.6,443.9 191.7,445.4 193.8,447 195.9,447.6 198.4,447.9 200.9,451.4 203.4,459 205.9,465.2 207.8,467.4 209.7,472.7 213.4,486.5 215.9,486.3 218.4,485.3 220.5,488.7 222.6,492.5 224.7,495.3 227.2,477.8 229.8,476.5 232.3,475.2 234.8,478 237.3,480.3 239.8,477.4 242.3,472.7 244.8,463.8 247.3,457.7 249.8,449.8 252.3,442.6 254.8,440.8 257.4,438.8 259.9,444.2 262.4,450.1 264.3,456.1 266.2,458.9 268.3,456.9 270.3,452.4 272.4,451.4 274.5,447.1 276.6,442.3 278.7,438.8 280.8,439.8 282.9,441.6 285,442.6 286.9,441.7 288.8,440.7 290.6,439 292.5,437.6 294.4,436.9 296.3,436.2 298.2,436.5 300.1,437.6 302,440 303.9,442.4 305.7,443 307.6,443.9 309.5,446.7 311.4,448.4 313.2,450.5 315.1,452.6 317,453.5 318.9,454.5 320.8,455.4 322.7,457.7 324.8,461.1 326.8,461.4 328.9,463.9 330.8,466.2 332.7,470.2 335.2,467.2 337.7,463.9 340.1,465 342.6,464.7 345,465.2 345,470.7 347.5,472.5 350,474.5 352.1,478.1 354.2,482.4 356.3,485.8 358.5,484.8 360.7,484.5 362.9,481.8 365.1,480.8 367.6,484.8 370.1,487.1 372,485 373.9,485.2 375.7,485.9 377.6,483.3 379.6,483.4 381.6,483.6 383.7,484.7 385.7,484.2 387.7,484.6 390.2,484.8 392.7,488.1 394,494.1 396.1,497.2 398.1,500.1 400.2,501.6 402.8,502.3 405.3,500.3 409,492.8 411.6,494.2 414.1,494.1 417.8,489.1 420.3,487.1 422.8,486.5 424.7,489.9 426.6,491.6 429.1,491.1 431.6,489.1 433.7,486.2 435.8,485.9 437.9,484 439.8,490.5 441.7,495.3 443.8,493.8 445.8,493.3 447.9,492.8 450.4,492.2 453,490.3 455.5,475.8 459.2,455.7 461.8,454.4 465.5,450.7 468,453.3 470.5,455.7 472.4,456.4 474.3,456.9 476.2,451.6 478.1,446.9 481.8,450.7 483.7,448.7 485.6,445.6 488.1,446.6 490.6,444.4 493.1,446.4 495.7,446.9 497.8,446.8 499.8,447.7 501.9,448.1 504.4,444.8 507,443.1 509.1,442.6 511.1,442.7 513.2,441.9 515.8,439.4 518.3,438.1 520.8,437.5 523.3,437.6 525.8,439 528.3,443.1 530.2,438.4 532.1,436.8 534.6,430.7 537.1,425.5 539,427.1 540.9,426.8 543.4,431.5 545.9,434.3 549.6,435.6 551.5,431.6 553.4,430.6 555.9,432 558.4,430.6 560.9,425.2 563.4,418 565.5,410.5 567.6,401.9 569.7,394.2 571.8,390.6 573.9,390.3 576,386.6 578.5,393.4 581,399.2 582.9,387.5 584.8,375.3 586.9,376.2 589,374 591.1,374.1 593.6,354 595.6,357.8 598.6,313.8 601.1,340.2 603,338.6 604.9,337.7 608.6,325.1 611.2,326.4 614.9,342.7 617.4,349 619.3,346.7 621.2,341.4 623.7,339.2 626.2,336.4 628.1,347.9 630,357.8 633.3,371.6 635.4,360.1 637.5,350.2 639.4,343.7 641.3,338.9 643.8,338.5 646.3,338.9 648.8,342.8 651.3,346.5 653.8,346.1 656.4,347.7 658.9,355.6 661.4,360.3 663.9,361.2 666.4,362.8 668.9,365.3 671.4,369.1 673.9,366.6 676.4,364 679,361.5 681.5,357.8 684,355 686.5,351.5 690,352.7 690,350.6 692.5,344.4 695,338 697.5,334.7 700,330.5 702.5,331.1 705.1,331.7 708.8,338 710.7,341 712.6,343 714.5,336.2 716.4,330.5 718.9,334.2 722.1,346.8 724.9,339.8 727.7,335.5 731.4,343 734,350.1 736.5,358.1 740.2,355.6 742.7,345.5 744.8,343.2 746.9,342.1 749,338 750.9,337.6 752.8,340.5 756.5,336.8 759,341.8 761.6,346.8 765.3,355.6 767.2,357.7 769.1,359.4 771.6,370.7 773.5,369.7 775.4,371.9 777.9,363.1 781.6,359.4 784.9,371.9 787.4,365.6 790.4,373.2 793,374.2 795.5,375.7 799.2,376.9 801.1,375 803,371.9 805.5,363.1 808,364.4 810.5,357.2 813,351.8 814.9,350 816.8,350.6 819.3,349.3 821.8,360.6 824.3,356.8 826.2,361.7 828.1,365.6 830,360 831.9,354.3 835.6,355.6 837.5,352.7 839.4,348.1 841.9,338 843.8,336.5 845.7,333 848.7,325.5 852,328 854.5,331.7 857,329.2 860.2,340.5 863.3,333 865.8,333.3 868.3,331.7 870.8,329.4 873.3,325.5 875.2,323.9 877.1,321.7 879.2,318.2 881.3,315.4 884.6,317.9 886.5,316.7 888.4,315.4 890.9,311.6 892.9,304.1 895.9,306.6 898.9,302.9 901.4,274 904.7,275.2 907.9,266.5 911,270.2 913.5,257.7 916.5,238.8 919,246.4 921.5,261.4 924.8,250.1 928.5,253.9 930.4,254.2 932.3,253.9 934.8,241.3 937.3,243.9 939.8,240.1 942.3,245.1 944.2,247.4 946.1,247.6 948.6,246.4 950.5,252.3 952.4,255.2 954.3,259.6 956.2,265.2 958.5,271.5 960.7,275.2 962.4,271.5 964.2,276.5 967.5,266.5 970,266 972.5,267.7 976.2,277.8 978.1,281.7 980,284 981.9,285.5 983.8,287.8 987.5,284 989.4,284 991.3,284 993.2,284.6 995.1,284 997.2,282.4 999.2,278.8 1001.3,275.4 1005,262.9 1006.9,262.7 1008.8,260.3 1012.1,254.1 1014.9,258.1 1017.6,261.6 1019.5,253.9 1021.4,246.5 1023.5,250.7 1025.6,255.3 1027.5,250.6 1029.5,245.5 1031.4,240.3 1033.9,243.6 1036.4,246.5 1038.6,250 1040.7,252.8 1043,247.7 1045.2,241.5 1047.3,236.2 1049.4,228.7 1051.5,221.4 1054,218.2 1056.5,213.9 1058.7,217.2 1060.8,221.4 1064.1,234 1067.8,218.9 1070.3,224 1072.8,230.2 1074.7,224.7 1076.6,220.2 1079.1,222.8 1081.6,223.9 1083.7,215.7 1085.8,207.1 1087.9,198.3 1087.9,197.6 1089.8,192.2 1091.7,187 1091.7,187.5 1095.4,175.7 1097.9,176.9 1099.8,165 1101.7,155.6 1103.6,157.8 1105.5,159.4 1109.2,158.1 1111.1,160.5 1113,161.9 1114.9,163.5 1116.8,165.6 1120.5,148.1 1123,147 1125.6,143 1129.3,130.5 1132.6,148.1 1135.6,135.5 1137.5,136.1 1139.4,136.8 1141.9,128 1145.2,131.7 1148.2,120.4 1151.2,119.2 1154.4,109.1 1156.3,106.4 1158.2,102.9 1160.7,101.6 1162.7,105.4 1165.2,104.1 1168.3,120.4 1170.8,130.5 1173.3,120.4 1175.8,134.2 1177.7,134.9 1179.6,138 1181.3,144.3 1183.8,135.5 1186.3,140.5 1189.6,130.5 1192.9,120.4 1194.6,122.9 1197.9,116.7 1200.9,105.4 1203.9,92.8 1206.4,77.8 1208.4,47.6 1210.4,55.2 1212.9,43.9" fill="none" stroke="#fbc02d" stroke-width="2.3" stroke-linejoin="round" stroke-linecap="round"/>
<polyline points="0,341.7 2.5,345.4 5,349.2 6.9,347 8.8,346.7 10.7,348.2 12.6,350.5 14.7,347.5 16.7,344.4 18.8,340.4 20.1,353 22.6,347.6 25.1,339.2 27,339.7 28.9,342.9 32.6,332.9 34.7,340.4 37.5,334.6 40.2,329.1 42.7,327.2 45.2,327.9 47.3,328.9 49.4,331.9 51.5,334.2 54.7,329.1 56.9,336.3 59,344.2 61.5,340.2 64,334.9 65.9,337.1 67.8,340.4 69.8,339.2 71.9,342 74.1,345.5 76.6,341.2 79.1,346.4 81.6,350.5 83.5,358.7 85.4,365.5 87.9,363 90.2,370.3 92.4,378.1 94.7,374.3 96.9,366.8 99.2,361.8 101.3,366.2 103.4,370.6 105.5,367 107.5,363 109.6,365.9 111.7,368.1 114.2,371.1 116.8,371.8 119.3,380.4 121.8,388.1 124.3,397.6 126.8,405.7 127.4,405.2 129.6,412.2 131.7,419.1 132.6,431.2 134.3,433 136,441.7 137.8,457.3 140.4,494.6 142.1,472.9 143.9,455.6 145.6,460.8 147.3,443.4 149.1,472.9 150.8,446.9 153.1,415.6 155.5,429.5 156.5,452.1 158.6,464.2 161.2,455.6 163.8,455.6 165.6,476.4 168.2,472.9 170.8,490.3 172.9,488.4 175.1,486.8 178.6,469.4 181.2,467.7 183.5,467.1 185.8,467.7 187.7,474.3 189.6,480.3 191.5,482.7 193.3,484.7 195.2,485.1 197.1,487.8 199.2,486.6 201.3,483.3 203.4,482.8 205.9,483.7 208.4,485.3 210.3,483.5 212.2,480.4 214,477.9 215.9,476.5 218,476.4 220.1,477.2 222.2,475.2 224.7,479.4 227.2,481.5 229.1,477 231,474 232.9,476.1 234.8,476.8 236.6,478 238.5,479 241.1,478.4 243.6,476.5 246.1,476.8 248.6,480.3 252.3,470.2 254.8,462.1 257.4,452.6 259.9,461.7 262.4,474 264.5,473.2 266.6,471.6 268.7,470.2 270.6,471.7 272.4,472.1 274.3,473.3 276.2,474 278.4,476.8 280.6,476.4 282.8,479.3 285,481.5 287.1,480.8 289.2,479.6 291.3,479 293.3,481.1 295.3,480.5 297.3,479 299.3,480.9 301.3,481.5 303.3,481.5 305.3,482.8 307.4,484 309.4,484.9 311.4,485.3 313.3,486.9 315.1,487.4 317,487.5 318.9,489.1 320.8,486.4 322.7,486.5 324.8,487.9 326.8,492.4 328.9,494.1 330.8,497 332.7,496.6 334.8,495.6 336.9,493.9 339,491.6 341,485.5 343,479 345,472.7 345,473.3 347.1,474.6 349.2,476 351.3,478.3 353.8,479.2 356.3,482 358.2,480.8 360.1,477 363.8,470.7 365.7,474 367.6,478.3 369.5,478.7 371.4,480.8 375.1,473.3 377.6,475.3 380.2,477 382.7,478.3 385.2,478.3 387.7,477 390.2,475.8 392.1,476.5 393.9,477.2 395.8,478.4 397.7,478.8 399.6,479.5 401.5,481 403.4,480 405.3,480.8 407.8,479.1 410.3,475.8 412.2,469.6 414.1,465.7 417.8,465.7 420.3,468.8 422.8,472 425.4,473 427.9,470.7 430,466.4 432,462.1 434.1,458.2 436.2,461.7 438.3,464 440.4,467 442.9,460.4 445.4,456.9 448.7,451.9 451.7,468.2 453.6,463.8 455.5,458.2 459.2,444.4 461.8,453.2 465.5,450.7 467.4,454.8 469.3,456.9 471.2,459.5 473.1,459.4 475.6,457 478.1,453.2 481.8,458.2 483.7,452.5 485.6,448.1 488.1,447.1 490.6,444.4 492.5,447 494.4,448.1 496.5,448.1 498.6,450.8 500.7,451.9 502.8,451.5 504.9,448.7 507,448.1 510.7,445.6 512.8,446.1 514.9,448 517,448.1 519.1,448.2 521.2,448.2 523.3,448.1 525.4,448.3 527.5,449.5 529.6,449.4 533.3,433.1 535.8,429.7 538.3,423 540.2,426.3 542.1,428.1 544.6,424.3 547.1,430.6 549.2,429.2 551.3,428.9 553.4,428.1 555.3,431 557.2,435.6 559.7,436.8 562.2,433.6 564.7,430.6 567.2,427.2 569.7,423 572.2,421.1 574.7,420.5 576.6,422.1 578.5,424.3 581,414.8 583.5,408 586,401.7 587.9,401.3 589.8,404.2 591.7,399.3 593.6,395.4 596.1,396.7 599.1,376.6 602.4,391.6 604.9,381.9 607.4,370.3 609.9,367.8 611.8,373.1 613.7,376.6 617.4,366.5 620,363.1 622.5,362.8 625,359.8 627.5,354 630,360.5 632.5,365.3 635,360.7 637.5,355.2 639.4,353.2 641.3,351.5 643.2,353.6 645.1,357.8 647.6,359.6 650.1,359 653.8,362.8 655.7,362.7 657.6,361.5 660.1,365.5 662.6,369.1 665.2,371 667.7,370.3 671.4,374.1 673.3,371.7 675.2,370.3 677.7,367.5 680.2,365.3 682.7,368.7 685.2,369.1 687.6,370.6 690,371.6 690,370.7 691.9,368.4 693.8,364.4 697.5,358.1 699.4,359.8 701.3,363.1 703.2,361.6 705.1,361.9 707.6,364 710.1,366.9 712,369.5 713.9,371.9 716,369.2 718,370.2 720.1,366.9 722.7,365.9 725.2,365.6 727.7,370 730.2,375.7 732.7,380.8 735.2,385.7 737.3,381.3 739.4,376 741.5,370.7 745.2,384.5 747.8,383.3 750.3,382 752.5,380.6 754.8,378.2 757,380.7 759.1,383.2 761.6,384.9 764.1,385.7 766.6,390.8 769.1,397 771,396.9 772.9,399.5 776.6,390.7 778.5,397.8 780.4,405.8 782.5,406 784.6,407.4 786.7,405.8 789.2,403.6 791.7,404.6 793.8,406 795.9,407.7 798,408.9 800.5,412.3 803,418.9 805.5,413 808,407.6 809.9,404.2 811.8,399.5 815.5,397 817.4,399.9 819.3,404.6 821.3,403.9 823.3,406.1 825.4,406.1 827.4,407.4 829.4,407.1 833.1,398.3 835,402.5 836.9,404.6 838.8,404.2 840.7,402 844.4,403.3 846.5,399.7 848.7,394.5 851,397.9 853.2,400.8 855.7,398.3 857.6,400.4 859.5,403.3 861.4,400.2 863.3,397 865.8,399.8 868.3,402 872,385.7 874.1,381.8 876.3,375.7 878.5,381 880.8,383.2 882.7,381.3 884.6,380.7 886.5,377 888.4,370.7 890.6,366.5 892.9,364.4 895.9,370.7 898.9,376.9 901.1,370.8 903.4,363.1 905.3,359.5 907.2,356.8 909.1,359.9 911,363.1 913.5,368.1 916,371.9 919.7,373.2 921.6,372.5 923.5,369.4 925.4,375.6 927.3,380.7 931,385.7 932.9,379.3 934.8,370.7 937.3,367.8 939.8,364.4 942.3,368 944.9,371.9 947.4,366 949.9,360.6 952.4,363.1 954.9,380.7 957.4,383.5 959.9,385.7 961.8,391.6 963.7,397 966.2,387.1 968.7,376.9 970.6,380.4 972.5,383.2 976.2,387 978.8,389.4 981.3,390.7 983.8,388.4 986.3,383.2 988.2,382.5 990.1,380.7 992.6,380.6 995.1,379.4 998.8,360.8 1002.5,354.5 1004.4,350.9 1006.3,348.2 1008.2,348.9 1010.1,350.7 1012.6,351.5 1015.1,353.3 1017.6,345.3 1020.1,335.7 1022.6,341.7 1025.1,347 1027.2,343.9 1029.3,340.1 1031.4,336.9 1033.9,345.7 1036,344.1 1038.1,345.2 1040.2,344.5 1042.7,336.8 1045.2,328.1 1047.7,322.2 1050.2,316.8 1053.3,326.9 1056.5,315.6 1058.7,321.5 1060.8,324.4 1063,325 1065.3,325.6 1067.2,324.7 1069.1,323.1 1072.8,335.7 1075.9,352 1077.9,342.6 1079.9,335.7 1082.4,345.7 1085.9,325.6 1089.2,315.6 1092.9,299.3 1094.8,297.9 1096.7,296.8 1099.2,286.3 1101.7,274.2 1104.2,276.7 1106.1,269.6 1108,262.9 1109.9,267.4 1111.8,271.6 1115.5,276.7 1117.4,270.8 1119.3,265.4 1121.8,251.6 1123.9,243.8 1126,233.3 1128.1,226.5 1131.8,232.7 1133.7,223.8 1135.6,212.6 1138.1,218.9 1140.6,210.1 1142.9,220.9 1145.2,231.5 1147.3,223.9 1149.4,215.2 1151.9,202.6 1154.4,205.1 1156.3,196.6 1158.2,190 1160.2,185 1162.7,197.6 1165.7,205.1 1168.8,212.6 1170.8,208.2 1172.8,201.3 1175.3,215.2 1177.8,223.9 1180.3,218.9 1182.8,227.7 1184.9,228.6 1187.1,229 1189,222.7 1190.9,216.4 1194.6,208.9 1197.1,203.9 1199.6,198.3 1199.6,198.8 1202.9,193.3 1202.9,195.1 1205.4,180.7 1207.9,155.6 1209.7,145.5 1211.4,164.4 1213.4,145.5" fill="none" stroke="#0c3d78" stroke-width="3.7" stroke-linejoin="round" stroke-linecap="round"/>
<line x1="1" y1="560.5" x2="1296" y2="560.5" stroke="#000" stroke-width="3"/>
<circle cx="1213.5" cy="146" r="9.3" fill="#0c3d78" fill-opacity="0.13" stroke="#0c3d78" stroke-opacity="0.6" stroke-width="0.9"/>
<circle cx="1213.5" cy="146" r="5.4" fill="#0c3d78"/>
<line x1="1" y1="712.5" x2="1373" y2="712.5" stroke="#555" stroke-width="1"/>
<line x1="1295.5" y1="2" x2="1295.5" y2="744" stroke="#555" stroke-width="1"/>
<g stroke="#111" stroke-width="1.3" fill="none" stroke-linecap="round" transform="translate(1335.5 729.4)">
<circle r="6.2"/>
<path d="M0-6.5V-9M0 6.5V9M-6.5 0H-9M6.5 0H9M4.7-4.7L6.1-6.1M-4.7-4.7L-6.1-6.1M4.7 4.7L6.1 6.1M-4.7 4.7L-6.1 6.1"/>
</g>
</svg>
<div id="title"><span>10-Year Government Bond Yields</span></div>
<svg width="1377" height="749" viewBox="0 0 1377 749" style="pointer-events:none">
<g fill="#2196f3" font-family="Liberation Sans, sans-serif" font-size="18">
<text transform="translate(131.2 705.3) rotate(-90)" textLength="86.6" lengthAdjust="spacingAndGlyphs">March 2020</text>
<text transform="translate(517.2 705) rotate(-90)" textLength="33.4" lengthAdjust="spacingAndGlyphs">2021</text>
<text transform="translate(993.2 705) rotate(-90)" textLength="34.4" lengthAdjust="spacingAndGlyphs">2022</text>
</g></svg>
<div class="yt" style="top:10px">4.500%</div>
<div class="yt" style="top:310px">2.000%</div>
<div class="yt" style="top:370px">1.500%</div>
<div class="yt" style="top:430px">1.000%</div>
<div class="yt" style="top:490px">0.500%</div>
<div class="yt" style="top:610px">−0.500%</div>
<div class="yt" style="top:670px">−1.000%</div>

<div class="lb" style="top:24px;left:1239px;width:122px;background:#fbc02d;color:#1a1a1a"><span class="n">NZ10Y</span><span class="v">4.285%</span></div>
<div class="lb w" style="top:46px;left:1237px;width:124px;background:#673ab7;color:#fff"><span class="n">AU10Y</span><span class="v">4.085%</span></div>
<div class="lb" style="top:67px;left:1244px;width:117px;background:#00bfa5;color:#1a1a1a"><span class="n">IT10Y</span><span class="v">4.021%</span></div>
<div class="lb w" style="top:115px;left:1239px;width:122px;background:#4caf50;color:#fff"><span class="n">CA10Y</span><span class="v">3.460%</span></div>
<div class="lb w" style="top:136px;left:1240px;width:121px;background:#0c3d78;color:#fff"><span class="n">US10Y</span><span class="v">3.443%</span></div>
<div class="lb" style="top:187px;left:1241px;width:120px;background:#b388ff;color:#1a1a1a"><span class="n">ES10Y</span><span class="v">3.017%</span></div>
<div class="lb" style="top:245px;left:1237px;width:124px;background:#26c6da;color:#1a1a1a"><span class="n">GB10Y</span><span class="v">2.534%</span></div>
<div class="lb w" style="top:267px;left:1240px;width:121px;background:#0000ff;color:#fff"><span class="n">FR10Y</span><span class="v">2.394%</span></div>
<div class="lb w" style="top:332px;left:1239px;width:122px;background:#000;color:#fff"><span class="n">DE10Y</span><span class="v">1.813%</span></div>
<div class="lb w" style="top:515px;left:1241px;width:120px;background:#aa00ff;color:#fff"><span class="n">JP10Y</span><span class="v">0.290%</span></div>

<div id="zero"><span>0.000%</span></div>
<div class="xt b" style="left:27px">2020</div>
<div class="xt" style="left:140px">Apr</div>
<div class="xt" style="left:259px">Jul</div>
<div class="xt" style="left:379px">Oct</div>
<div class="xt b" style="left:497px">2021</div>
<div class="xt" style="left:614px">Apr</div>
<div class="xt" style="left:732px">Jul</div>
<div class="xt" style="left:851px">Oct</div>
<div class="xt b" style="left:972px">2022</div>
<div class="xt" style="left:1086px">Apr</div>
<div class="xt" style="left:1202px">Jul</div>

<div id="frame"></div><div id="gr"></div><div id="gb"></div>
</body></html>
